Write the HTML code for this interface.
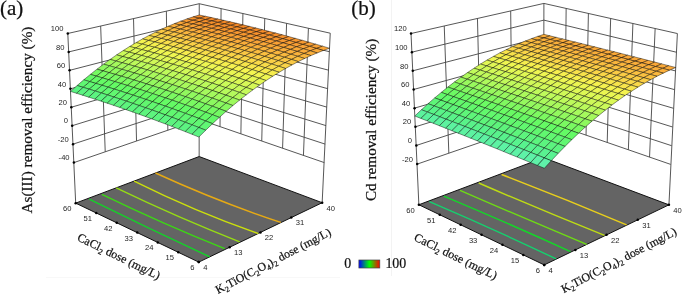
<!DOCTYPE html>
<html><head><meta charset="utf-8"><style>html,body{margin:0;padding:0;background:#fff;width:685px;height:294px;overflow:hidden}svg{display:block;will-change:transform;filter:blur(0.3px)}</style></head>
<body>
<svg width="685" height="294" viewBox="0 0 685 294">
<rect width="685" height="294" fill="#fff"/><line x1="391.5" y1="0" x2="391.5" y2="276" stroke="#f3f3f3" stroke-width="1"/><line x1="46" y1="277.5" x2="340" y2="277.5" stroke="#f8f8f8" stroke-width="1"/>
<g stroke="#444" stroke-width="0.9" fill="none">
<line x1="73.9" y1="162.6" x2="199.17" y2="119.43"/>
<line x1="73.03" y1="144.15" x2="199.18" y2="102.89"/>
<line x1="72.16" y1="125.71" x2="199.19" y2="86.36"/>
<line x1="71.29" y1="107.26" x2="199.21" y2="69.83"/>
<line x1="70.42" y1="88.82" x2="199.22" y2="53.3"/>
<line x1="69.55" y1="70.37" x2="199.23" y2="36.77"/>
<line x1="68.68" y1="51.93" x2="199.24" y2="20.24"/>
<line x1="67.81" y1="33.48" x2="199.25" y2="3.71"/>
<line x1="105.22" y1="151.81" x2="100.67" y2="26.04"/>
<line x1="136.54" y1="141.01" x2="133.53" y2="18.59"/>
<line x1="167.85" y1="130.22" x2="166.39" y2="11.15"/>
<line x1="199.17" y1="119.43" x2="324.3" y2="162.6"/>
<line x1="199.18" y1="102.89" x2="325.15" y2="144.11"/>
<line x1="199.19" y1="86.36" x2="326" y2="125.63"/>
<line x1="199.21" y1="69.83" x2="326.85" y2="107.14"/>
<line x1="199.22" y1="53.3" x2="327.7" y2="88.66"/>
<line x1="199.23" y1="36.77" x2="328.54" y2="70.17"/>
<line x1="199.24" y1="20.24" x2="329.39" y2="51.68"/>
<line x1="199.25" y1="3.71" x2="330.24" y2="33.2"/>
<line x1="220.03" y1="126.62" x2="221.08" y2="8.62"/>
<line x1="240.88" y1="133.82" x2="242.91" y2="13.54"/>
<line x1="261.74" y1="141.01" x2="264.75" y2="18.45"/>
<line x1="282.59" y1="148.21" x2="286.58" y2="23.37"/>
<line x1="303.45" y1="155.4" x2="308.41" y2="28.28"/>
<line x1="75.7" y1="203.13" x2="67.81" y2="33.48"/>
<line x1="199.15" y1="156.54" x2="199.25" y2="3.71"/>
<line x1="322.16" y1="202.71" x2="330.24" y2="33.2"/>
</g>
<polygon points="75.7,203.13 198.78,262.11 322.16,202.71 199.15,156.54" fill="#646464" stroke="#111" stroke-width="1" stroke-linejoin="round"/>
<path d="M89.2,199.2 Q149.45,229 209.7,256.8" fill="none" stroke="#14d228" stroke-width="1.4"/>
<path d="M101.9,194.3 Q163.3,224.05 224.7,248.6" fill="none" stroke="#3cd714" stroke-width="1.4"/>
<path d="M116.2,187.9 Q177.95,217.65 239.7,241.8" fill="none" stroke="#96dc14" stroke-width="1.4"/>
<path d="M134.1,181.2 Q196.25,212.2 258.4,233.6" fill="none" stroke="#cbe00c" stroke-width="1.4"/>
<path d="M155.5,173 Q218.15,201.7 280.8,222.4" fill="none" stroke="#e6aa14" stroke-width="1.4"/>
<g stroke="#000" stroke-opacity="0.72" stroke-width="0.6" stroke-linejoin="round">
<polygon points="199.22,18.19 193.06,16.86 199.24,14.97 205.41,16.28" fill="#f68d2a"/>
<polygon points="205.42,19.55 199.22,18.19 205.41,16.28 211.61,17.62" fill="#f68c29"/>
<polygon points="193.01,20.28 186.84,18.94 193.06,16.86 199.22,18.19" fill="#f7932d"/>
<polygon points="211.66,20.94 205.42,19.55 211.61,17.62 217.84,19" fill="#f68a28"/>
<polygon points="199.2,21.66 193.01,20.28 199.22,18.19 205.42,19.55" fill="#f7922c"/>
<polygon points="186.76,22.56 180.6,21.2 186.84,18.94 193.01,20.28" fill="#f89b32"/>
<polygon points="217.93,22.37 211.66,20.94 217.84,19 224.11,20.42" fill="#f58927"/>
<polygon points="205.44,23.07 199.2,21.66 205.42,19.55 211.66,20.94" fill="#f7902b"/>
<polygon points="192.95,23.96 186.76,22.56 193.01,20.28 199.2,21.66" fill="#f89a31"/>
<polygon points="180.48,25.04 174.32,23.66 180.6,21.2 186.76,22.56" fill="#faa537"/>
<polygon points="224.23,23.83 217.93,22.37 224.11,20.42 230.42,21.86" fill="#f58927"/>
<polygon points="211.71,24.51 205.44,23.07 211.66,20.94 217.93,22.37" fill="#f68f2b"/>
<polygon points="199.19,25.39 192.95,23.96 199.2,21.66 205.44,23.07" fill="#f89830"/>
<polygon points="186.67,26.45 180.48,25.04 186.76,22.56 192.95,23.96" fill="#faa436"/>
<polygon points="174.17,27.71 168.02,26.32 174.32,23.66 180.48,25.04" fill="#faaf3b"/>
<polygon points="230.57,25.33 224.23,23.83 230.42,21.86 236.76,23.35" fill="#f58927"/>
<polygon points="218.01,25.99 211.71,24.51 217.93,22.37 224.23,23.83" fill="#f68f2a"/>
<polygon points="205.45,26.85 199.19,25.39 205.44,23.07 211.71,24.51" fill="#f8972f"/>
<polygon points="192.9,27.9 186.67,26.45 192.95,23.96 199.19,25.39" fill="#faa235"/>
<polygon points="180.36,29.15 174.17,27.71 180.48,25.04 186.67,26.45" fill="#faae3a"/>
<polygon points="167.84,30.59 161.69,29.17 168.02,26.32 174.17,27.71" fill="#fabb3f"/>
<polygon points="236.95,26.87 230.57,25.33 236.76,23.35 243.14,24.87" fill="#f58927"/>
<polygon points="224.35,27.51 218.01,25.99 224.23,23.83 230.57,25.33" fill="#f68e2a"/>
<polygon points="211.76,28.35 205.45,26.85 211.71,24.51 218.01,25.99" fill="#f8962f"/>
<polygon points="199.17,29.38 192.9,27.9 199.19,25.39 205.45,26.85" fill="#f9a135"/>
<polygon points="186.59,30.61 180.36,29.15 186.67,26.45 192.9,27.9" fill="#faad3a"/>
<polygon points="174.02,32.04 167.84,30.59 174.17,27.71 180.36,29.15" fill="#fab93f"/>
<polygon points="161.47,33.66 155.33,32.22 161.69,29.17 167.84,30.59" fill="#fac844"/>
<polygon points="243.36,28.44 236.95,26.87 243.14,24.87 249.55,26.42" fill="#f58927"/>
<polygon points="230.73,29.07 224.35,27.51 230.57,25.33 236.95,26.87" fill="#f68e2a"/>
<polygon points="218.1,29.89 211.76,28.35 218.01,25.99 224.35,27.51" fill="#f8962f"/>
<polygon points="205.47,30.9 199.17,29.38 205.45,26.85 211.76,28.35" fill="#f9a034"/>
<polygon points="192.85,32.12 186.59,30.61 192.9,27.9 199.17,29.38" fill="#faac39"/>
<polygon points="180.24,33.53 174.02,32.04 180.36,29.15 186.59,30.61" fill="#fab83e"/>
<polygon points="167.65,35.14 161.47,33.66 167.84,30.59 174.02,32.04" fill="#fac643"/>
<polygon points="155.08,36.94 148.94,35.47 155.33,32.22 161.47,33.66" fill="#f9d548"/>
<polygon points="249.82,30.05 243.36,28.44 249.55,26.42 256,28.02" fill="#f58a27"/>
<polygon points="237.14,30.66 230.73,29.07 236.95,26.87 243.36,28.44" fill="#f68e2a"/>
<polygon points="224.47,31.46 218.1,29.89 224.35,27.51 230.73,29.07" fill="#f7962e"/>
<polygon points="211.81,32.46 205.47,30.9 211.76,28.35 218.1,29.89" fill="#f9a034"/>
<polygon points="199.15,33.66 192.85,32.12 199.17,29.38 205.47,30.9" fill="#faab39"/>
<polygon points="186.5,35.06 180.24,33.53 186.59,30.61 192.85,32.12" fill="#fab73e"/>
<polygon points="173.87,36.65 167.65,35.14 174.02,32.04 180.24,33.53" fill="#fac543"/>
<polygon points="161.25,38.44 155.08,36.94 161.47,33.66 167.65,35.14" fill="#f9d348"/>
<polygon points="148.66,40.43 142.53,38.94 148.94,35.47 155.08,36.94" fill="#f7e24b"/>
<polygon points="256.3,31.7 249.82,30.05 256,28.02 262.49,29.65" fill="#f68b28"/>
<polygon points="243.59,32.29 237.14,30.66 243.36,28.44 249.82,30.05" fill="#f68f2b"/>
<polygon points="230.89,33.07 224.47,31.46 230.73,29.07 237.14,30.66" fill="#f8962f"/>
<polygon points="218.18,34.05 211.81,32.46 218.1,29.89 224.47,31.46" fill="#f9a034"/>
<polygon points="205.48,35.24 199.15,33.66 205.47,30.9 211.81,32.46" fill="#faaa39"/>
<polygon points="192.8,36.62 186.5,35.06 192.85,32.12 199.15,33.66" fill="#fab63d"/>
<polygon points="180.12,38.2 173.87,36.65 180.24,33.53 186.5,35.06" fill="#fac443"/>
<polygon points="167.47,39.98 161.25,38.44 167.65,35.14 173.87,36.65" fill="#f9d247"/>
<polygon points="154.83,41.95 148.66,40.43 155.08,36.94 161.25,38.44" fill="#f7e14b"/>
<polygon points="142.22,44.12 136.09,42.61 142.53,38.94 148.66,40.43" fill="#f5f24f"/>
<polygon points="262.83,33.39 256.3,31.7 262.49,29.65 269.01,31.32" fill="#f68c29"/>
<polygon points="250.08,33.96 243.59,32.29 249.82,30.05 256.3,31.7" fill="#f6902b"/>
<polygon points="237.34,34.72 230.89,33.07 237.14,30.66 243.59,32.29" fill="#f8972f"/>
<polygon points="224.59,35.69 218.18,34.05 224.47,31.46 230.89,33.07" fill="#f9a034"/>
<polygon points="211.86,36.85 205.48,35.24 211.81,32.46 218.18,34.05" fill="#faaa39"/>
<polygon points="199.13,38.22 192.8,36.62 199.15,33.66 205.48,35.24" fill="#fab63d"/>
<polygon points="186.41,39.78 180.12,38.2 186.5,35.06 192.8,36.62" fill="#fac342"/>
<polygon points="173.72,41.55 167.47,39.98 173.87,36.65 180.12,38.2" fill="#f9d147"/>
<polygon points="161.04,43.51 154.83,41.95 161.25,38.44 167.47,39.98" fill="#f8e04b"/>
<polygon points="148.38,45.68 142.22,44.12 148.66,40.43 154.83,41.95" fill="#f6f04f"/>
<polygon points="135.75,48.04 129.63,46.49 136.09,42.61 142.22,44.12" fill="#eaf652"/>
<polygon points="269.4,35.12 262.83,33.39 269.01,31.32 275.57,33.03" fill="#f68d2a"/>
<polygon points="256.61,35.66 250.08,33.96 256.3,31.7 262.83,33.39" fill="#f7912c"/>
<polygon points="243.83,36.41 237.34,34.72 243.59,32.29 250.08,33.96" fill="#f8972f"/>
<polygon points="231.04,37.36 224.59,35.69 230.89,33.07 237.34,34.72" fill="#f9a034"/>
<polygon points="218.27,38.5 211.86,36.85 218.18,34.05 224.59,35.69" fill="#faaa39"/>
<polygon points="205.5,39.86 199.13,38.22 205.48,35.24 211.86,36.85" fill="#fab53d"/>
<polygon points="192.74,41.41 186.41,39.78 192.8,36.62 199.13,38.22" fill="#fac242"/>
<polygon points="180,43.16 173.72,41.55 180.12,38.2 186.41,39.78" fill="#fad147"/>
<polygon points="167.28,45.11 161.04,43.51 167.47,39.98 173.72,41.55" fill="#f8df4a"/>
<polygon points="154.58,47.27 148.38,45.68 154.83,41.95 161.04,43.51" fill="#f6ef4e"/>
<polygon points="141.9,49.62 135.75,48.04 142.22,44.12 148.38,45.68" fill="#ebf652"/>
<polygon points="129.25,52.16 123.14,50.59 129.63,46.49 135.75,48.04" fill="#dbf856"/>
<polygon points="276,36.89 269.4,35.12 275.57,33.03 282.18,34.78" fill="#f68f2b"/>
<polygon points="263.18,37.41 256.61,35.66 262.83,33.39 269.4,35.12" fill="#f7932d"/>
<polygon points="250.36,38.14 243.83,36.41 250.08,33.96 256.61,35.66" fill="#f89930"/>
<polygon points="237.53,39.07 231.04,37.36 237.34,34.72 243.83,36.41" fill="#f9a135"/>
<polygon points="224.72,40.2 218.27,38.5 224.59,35.69 231.04,37.36" fill="#faab39"/>
<polygon points="211.91,41.53 205.5,39.86 211.86,36.85 218.27,38.5" fill="#fab53d"/>
<polygon points="199.11,43.07 192.74,41.41 199.13,38.22 205.5,39.86" fill="#fac242"/>
<polygon points="186.33,44.81 180,43.16 186.41,39.78 192.74,41.41" fill="#fad047"/>
<polygon points="173.56,46.75 167.28,45.11 173.72,41.55 180,43.16" fill="#f8de4a"/>
<polygon points="160.82,48.89 154.58,47.27 161.04,43.51 167.28,45.11" fill="#f6ee4e"/>
<polygon points="148.09,51.23 141.9,49.62 148.38,45.68 154.58,47.27" fill="#ecf652"/>
<polygon points="135.4,53.77 129.25,52.16 135.75,48.04 141.9,49.62" fill="#dcf855"/>
<polygon points="122.73,56.51 116.63,54.9 123.14,50.59 129.25,52.16" fill="#cbfa59"/>
<polygon points="282.65,38.7 276,36.89 282.18,34.78 288.82,36.57" fill="#f7922c"/>
<polygon points="269.79,39.2 263.18,37.41 269.4,35.12 276,36.89" fill="#f7952e"/>
<polygon points="256.92,39.91 250.36,38.14 256.61,35.66 263.18,37.41" fill="#f89a31"/>
<polygon points="244.06,40.82 237.53,39.07 243.83,36.41 250.36,38.14" fill="#faa235"/>
<polygon points="231.21,41.93 224.72,40.2 231.04,37.36 237.53,39.07" fill="#faab39"/>
<polygon points="218.36,43.25 211.91,41.53 218.27,38.5 224.72,40.2" fill="#fab63d"/>
<polygon points="205.52,44.77 199.11,43.07 205.5,39.86 211.91,41.53" fill="#fac242"/>
<polygon points="192.69,46.5 186.33,44.81 192.74,41.41 199.11,43.07" fill="#fad047"/>
<polygon points="179.88,48.43 173.56,46.75 180,43.16 186.33,44.81" fill="#f8de4a"/>
<polygon points="167.09,50.56 160.82,48.89 167.28,45.11 173.56,46.75" fill="#f6ed4e"/>
<polygon points="154.32,52.89 148.09,51.23 154.58,47.27 160.82,48.89" fill="#edf652"/>
<polygon points="141.58,55.42 135.4,53.77 141.9,49.62 148.09,51.23" fill="#def855"/>
<polygon points="128.87,58.15 122.73,56.51 129.25,52.16 135.4,53.77" fill="#ccfa59"/>
<polygon points="116.19,61.07 110.1,59.44 116.63,54.9 122.73,56.51" fill="#b7f95b"/>
<polygon points="289.33,40.55 282.65,38.7 288.82,36.57 295.5,38.41" fill="#f7942e"/>
<polygon points="276.43,41.03 269.79,39.2 276,36.89 282.65,38.7" fill="#f8972f"/>
<polygon points="263.53,41.72 256.92,39.91 263.18,37.41 269.79,39.2" fill="#f89c32"/>
<polygon points="250.63,42.61 244.06,40.82 250.36,38.14 256.92,39.91" fill="#faa436"/>
<polygon points="237.73,43.7 231.21,41.93 237.53,39.07 244.06,40.82" fill="#faac3a"/>
<polygon points="224.84,45 218.36,43.25 224.72,40.2 231.21,41.93" fill="#fab63d"/>
<polygon points="211.96,46.51 205.52,44.77 211.91,41.53 218.36,43.25" fill="#fac242"/>
<polygon points="199.09,48.22 192.69,46.5 199.11,43.07 205.52,44.77" fill="#fad047"/>
<polygon points="186.24,50.14 179.88,48.43 186.33,44.81 192.69,46.5" fill="#f8dd4a"/>
<polygon points="173.4,52.26 167.09,50.56 173.56,46.75 179.88,48.43" fill="#f6ec4e"/>
<polygon points="160.59,54.58 154.32,52.89 160.82,48.89 167.09,50.56" fill="#eef652"/>
<polygon points="147.81,57.1 141.58,55.42 148.09,51.23 154.32,52.89" fill="#def855"/>
<polygon points="135.05,59.83 128.87,58.15 135.4,53.77 141.58,55.42" fill="#cdf959"/>
<polygon points="122.32,62.75 116.19,61.07 122.73,56.51 128.87,58.15" fill="#b9fa5b"/>
<polygon points="109.63,65.87 103.55,64.2 110.1,59.44 116.19,61.07" fill="#a2f95d"/>
<polygon points="296.06,42.45 289.33,40.55 295.5,38.41 302.22,40.28" fill="#f8972f"/>
<polygon points="283.12,42.9 276.43,41.03 282.65,38.7 289.33,40.55" fill="#f89930"/>
<polygon points="270.18,43.57 263.53,41.72 269.79,39.2 276.43,41.03" fill="#f99e33"/>
<polygon points="257.24,44.44 250.63,42.61 256.92,39.91 263.53,41.72" fill="#faa537"/>
<polygon points="244.3,45.51 237.73,43.7 244.06,40.82 250.63,42.61" fill="#faad3a"/>
<polygon points="231.37,46.8 224.84,45 231.21,41.93 237.73,43.7" fill="#fab73e"/>
<polygon points="218.44,48.29 211.96,46.51 218.36,43.25 224.84,45" fill="#fac342"/>
<polygon points="205.53,49.99 199.09,48.22 205.52,44.77 211.96,46.51" fill="#fad047"/>
<polygon points="192.64,51.89 186.24,50.14 192.69,46.5 199.09,48.22" fill="#f8dd4a"/>
<polygon points="179.76,54 173.4,52.26 179.88,48.43 186.24,50.14" fill="#f6ec4e"/>
<polygon points="166.9,56.31 160.59,54.58 167.09,50.56 173.4,52.26" fill="#eff651"/>
<polygon points="154.07,58.83 147.81,57.1 154.32,52.89 160.59,54.58" fill="#dff755"/>
<polygon points="141.26,61.54 135.05,59.83 141.58,55.42 147.81,57.1" fill="#cef959"/>
<polygon points="128.49,64.46 122.32,62.75 128.87,58.15 135.05,59.83" fill="#bafa5b"/>
<polygon points="115.75,67.57 109.63,65.87 116.19,61.07 122.32,62.75" fill="#a4f95d"/>
<polygon points="103.05,70.89 96.98,69.18 103.55,64.2 109.63,65.87" fill="#8bf85f"/>
<polygon points="302.82,44.38 296.06,42.45 302.22,40.28 308.99,42.2" fill="#f89a31"/>
<polygon points="289.85,44.82 283.12,42.9 289.33,40.55 296.06,42.45" fill="#f99c32"/>
<polygon points="276.87,45.46 270.18,43.57 276.43,41.03 283.12,42.9" fill="#f9a134"/>
<polygon points="263.89,46.31 257.24,44.44 263.53,41.72 270.18,43.57" fill="#faa738"/>
<polygon points="250.91,47.37 244.3,45.51 250.63,42.61 257.24,44.44" fill="#faae3b"/>
<polygon points="237.94,48.64 231.37,46.8 237.73,43.7 244.3,45.51" fill="#fab83e"/>
<polygon points="224.97,50.11 218.44,48.29 224.84,45 231.37,46.8" fill="#fac342"/>
<polygon points="212.01,51.8 205.53,49.99 211.96,46.51 218.44,48.29" fill="#fad047"/>
<polygon points="199.07,53.69 192.64,51.89 199.09,48.22 205.53,49.99" fill="#f8dd4a"/>
<polygon points="186.15,55.78 179.76,54 186.24,50.14 192.64,51.89" fill="#f6ec4e"/>
<polygon points="173.25,58.08 166.9,56.31 173.4,52.26 179.76,54" fill="#eff651"/>
<polygon points="160.37,60.59 154.07,58.83 160.59,54.58 166.9,56.31" fill="#e0f755"/>
<polygon points="147.52,63.3 141.26,61.54 147.81,57.1 154.07,58.83" fill="#cff958"/>
<polygon points="134.69,66.21 128.49,64.46 135.05,59.83 141.26,61.54" fill="#bcfa5b"/>
<polygon points="121.91,69.32 115.75,67.57 122.32,62.75 128.49,64.46" fill="#a5f95d"/>
<polygon points="109.16,72.63 103.05,70.89 109.63,65.87 115.75,67.57" fill="#8df85f"/>
<polygon points="96.45,76.13 90.39,74.39 96.98,69.18 103.05,70.89" fill="#75f962"/>
<polygon points="309.63,46.37 302.82,44.38 308.99,42.2 315.79,44.16" fill="#f99e33"/>
<polygon points="296.62,46.78 289.85,44.82 296.06,42.45 302.82,44.38" fill="#f99f34"/>
<polygon points="283.6,47.4 276.87,45.46 283.12,42.9 289.85,44.82" fill="#faa336"/>
<polygon points="270.58,48.23 263.89,46.31 270.18,43.57 276.87,45.46" fill="#faa938"/>
<polygon points="257.56,49.27 250.91,47.37 257.24,44.44 263.89,46.31" fill="#fab03b"/>
<polygon points="244.54,50.52 237.94,48.64 244.3,45.51 250.91,47.37" fill="#fab93f"/>
<polygon points="231.53,51.98 224.97,50.11 231.37,46.8 237.94,48.64" fill="#fac443"/>
<polygon points="218.53,53.64 212.01,51.8 218.44,48.29 224.97,50.11" fill="#fad147"/>
<polygon points="205.55,55.52 199.07,53.69 205.53,49.99 212.01,51.8" fill="#f8de4a"/>
<polygon points="192.58,57.6 186.15,55.78 192.64,51.89 199.07,53.69" fill="#f6ec4e"/>
<polygon points="179.63,59.9 173.25,58.08 179.76,54 186.15,55.78" fill="#eff651"/>
<polygon points="166.71,62.39 160.37,60.59 166.9,56.31 173.25,58.08" fill="#e0f755"/>
<polygon points="153.81,65.09 147.52,63.3 154.07,58.83 160.37,60.59" fill="#d0f958"/>
<polygon points="140.94,68 134.69,66.21 141.26,61.54 147.52,63.3" fill="#bcfa5b"/>
<polygon points="128.1,71.1 121.91,69.32 128.49,64.46 134.69,66.21" fill="#a6f95d"/>
<polygon points="115.3,74.41 109.16,72.63 115.75,67.57 121.91,69.32" fill="#8ff85e"/>
<polygon points="102.54,77.91 96.45,76.13 103.05,70.89 109.16,72.63" fill="#77f961"/>
<polygon points="89.82,81.62 83.78,79.84 90.39,74.39 96.45,76.13" fill="#63f967"/>
<polygon points="316.49,48.39 309.63,46.37 315.79,44.16 322.64,46.16" fill="#f9a235"/>
<polygon points="303.43,48.78 296.62,46.78 302.82,44.38 309.63,46.37" fill="#faa336"/>
<polygon points="290.38,49.38 283.6,47.4 289.85,44.82 296.62,46.78" fill="#faa637"/>
<polygon points="277.31,50.19 270.58,48.23 276.87,45.46 283.6,47.4" fill="#faab39"/>
<polygon points="264.25,51.21 257.56,49.27 263.89,46.31 270.58,48.23" fill="#fab23c"/>
<polygon points="251.19,52.44 244.54,50.52 250.91,47.37 257.56,49.27" fill="#fabb3f"/>
<polygon points="238.14,53.88 231.53,51.98 237.94,48.64 244.54,50.52" fill="#fac643"/>
<polygon points="225.1,55.53 218.53,53.64 224.97,50.11 231.53,51.98" fill="#f9d247"/>
<polygon points="212.07,57.4 205.55,55.52 212.01,51.8 218.53,53.64" fill="#f8de4a"/>
<polygon points="199.05,59.47 192.58,57.6 199.07,53.69 205.55,55.52" fill="#f6ec4e"/>
<polygon points="186.06,61.75 179.63,59.9 186.15,55.78 192.58,57.6" fill="#eff651"/>
<polygon points="173.09,64.24 166.71,62.39 173.25,58.08 179.63,59.9" fill="#e0f755"/>
<polygon points="160.14,66.93 153.81,65.09 160.37,60.59 166.71,62.39" fill="#d0f958"/>
<polygon points="147.22,69.83 140.94,68 147.52,63.3 153.81,65.09" fill="#bdfa5b"/>
<polygon points="134.34,72.93 128.1,71.1 134.69,66.21 140.94,68" fill="#a7f95d"/>
<polygon points="121.49,76.23 115.3,74.41 121.91,69.32 128.1,71.1" fill="#90f85e"/>
<polygon points="108.68,79.73 102.54,77.91 109.16,72.63 115.3,74.41" fill="#78f961"/>
<polygon points="95.91,83.43 89.82,81.62 96.45,76.13 102.54,77.91" fill="#63f966"/>
<polygon points="83.18,87.33 77.15,85.51 83.78,79.84 89.82,81.62" fill="#60f673"/>
<polygon points="323.38,50.46 316.49,48.39 322.64,46.16 329.53,48.21" fill="#faa637"/>
<polygon points="310.29,50.83 303.43,48.78 309.63,46.37 316.49,48.39" fill="#faa638"/>
<polygon points="297.19,51.4 290.38,49.38 296.62,46.78 303.43,48.78" fill="#faa938"/>
<polygon points="284.09,52.19 277.31,50.19 283.6,47.4 290.38,49.38" fill="#faad3a"/>
<polygon points="270.99,53.19 264.25,51.21 270.58,48.23 277.31,50.19" fill="#fab43d"/>
<polygon points="257.88,54.41 251.19,52.44 257.56,49.27 264.25,51.21" fill="#fabd40"/>
<polygon points="244.79,55.83 238.14,53.88 244.54,50.52 251.19,52.44" fill="#fac744"/>
<polygon points="231.7,57.47 225.1,55.53 231.53,51.98 238.14,53.88" fill="#f9d347"/>
<polygon points="218.63,59.32 212.07,57.4 218.53,53.64 225.1,55.53" fill="#f8df4a"/>
<polygon points="205.57,61.37 199.05,59.47 205.55,55.52 212.07,57.4" fill="#f6ed4e"/>
<polygon points="192.52,63.64 186.06,61.75 192.58,57.6 199.05,59.47" fill="#eff651"/>
<polygon points="179.5,66.12 173.09,64.24 179.63,59.9 186.06,61.75" fill="#e0f755"/>
<polygon points="166.51,68.8 160.14,66.93 166.71,62.39 173.09,64.24" fill="#d0f958"/>
<polygon points="153.54,71.69 147.22,69.83 153.81,65.09 160.14,66.93" fill="#befa5b"/>
<polygon points="140.61,74.79 134.34,72.93 140.94,68 147.22,69.83" fill="#a8f95c"/>
<polygon points="127.71,78.09 121.49,76.23 128.1,71.1 134.34,72.93" fill="#91f85e"/>
<polygon points="114.85,81.59 108.68,79.73 115.3,74.41 121.49,76.23" fill="#79f961"/>
<polygon points="102.03,85.29 95.91,83.43 102.54,77.91 108.68,79.73" fill="#64fa65"/>
<polygon points="89.25,89.19 83.18,87.33 89.82,81.62 95.91,83.43" fill="#60f672"/>
<polygon points="76.53,93.29 70.51,91.42 77.15,85.51 83.18,87.33" fill="#5bf382"/>
<polygon points="317.19,52.92 310.29,50.83 316.49,48.39 323.38,50.46" fill="#faaa39"/>
<polygon points="304.05,53.47 297.19,51.4 303.43,48.78 310.29,50.83" fill="#faac3a"/>
<polygon points="290.91,54.24 284.09,52.19 290.38,49.38 297.19,51.4" fill="#fab03b"/>
<polygon points="277.76,55.22 270.99,53.19 277.31,50.19 284.09,52.19" fill="#fab63e"/>
<polygon points="264.62,56.42 257.88,54.41 264.25,51.21 270.99,53.19" fill="#fabf41"/>
<polygon points="251.48,57.82 244.79,55.83 251.19,52.44 257.88,54.41" fill="#fac944"/>
<polygon points="238.35,59.44 231.7,57.47 238.14,53.88 244.79,55.83" fill="#f9d448"/>
<polygon points="225.23,61.28 218.63,59.32 225.1,55.53 231.7,57.47" fill="#f8e04b"/>
<polygon points="212.12,63.32 205.57,61.37 212.07,57.4 218.63,59.32" fill="#f6ed4e"/>
<polygon points="199.03,65.58 192.52,63.64 199.05,59.47 205.57,61.37" fill="#eff651"/>
<polygon points="185.97,68.05 179.5,66.12 186.06,61.75 192.52,63.64" fill="#e0f755"/>
<polygon points="172.92,70.72 166.51,68.8 173.09,64.24 179.5,66.12" fill="#d1f958"/>
<polygon points="159.91,73.61 153.54,71.69 160.14,66.93 166.51,68.8" fill="#befa5b"/>
<polygon points="146.92,76.7 140.61,74.79 147.22,69.83 153.54,71.69" fill="#a9f95c"/>
<polygon points="133.97,79.99 127.71,78.09 134.34,72.93 140.61,74.79" fill="#92f85e"/>
<polygon points="121.06,83.49 114.85,81.59 121.49,76.23 127.71,78.09" fill="#7af961"/>
<polygon points="108.19,87.19 102.03,85.29 108.68,79.73 114.85,81.59" fill="#64fa65"/>
<polygon points="95.36,91.09 89.25,89.19 95.91,83.43 102.03,85.29" fill="#60f672"/>
<polygon points="82.58,95.19 76.53,93.29 83.18,87.33 89.25,89.19" fill="#5bf381"/>
<polygon points="310.96,55.59 304.05,53.47 310.29,50.83 317.19,52.92" fill="#faaf3b"/>
<polygon points="297.77,56.33 290.91,54.24 297.19,51.4 304.05,53.47" fill="#fab33c"/>
<polygon points="284.58,57.29 277.76,55.22 284.09,52.19 290.91,54.24" fill="#fab93f"/>
<polygon points="271.4,58.47 264.62,56.42 270.99,53.19 277.76,55.22" fill="#fac141"/>
<polygon points="258.21,59.86 251.48,57.82 257.88,54.41 264.62,56.42" fill="#facb45"/>
<polygon points="245.04,61.47 238.35,59.44 244.79,55.83 251.48,57.82" fill="#f9d548"/>
<polygon points="231.87,63.28 225.23,61.28 231.7,57.47 238.35,59.44" fill="#f8e14b"/>
<polygon points="218.72,65.32 212.12,63.32 218.63,59.32 225.23,61.28" fill="#f6ee4e"/>
<polygon points="205.58,67.56 199.03,65.58 205.57,61.37 212.12,63.32" fill="#eef652"/>
<polygon points="192.47,70.02 185.97,68.05 192.52,63.64 199.03,65.58" fill="#e0f755"/>
<polygon points="179.38,72.68 172.92,70.72 179.5,66.12 185.97,68.05" fill="#d0f958"/>
<polygon points="166.31,75.56 159.91,73.61 166.51,68.8 172.92,70.72" fill="#befa5b"/>
<polygon points="153.28,78.64 146.92,76.7 153.54,71.69 159.91,73.61" fill="#a9f95c"/>
<polygon points="140.28,81.93 133.97,79.99 140.61,74.79 146.92,76.7" fill="#92f85e"/>
<polygon points="127.31,85.43 121.06,83.49 127.71,78.09 133.97,79.99" fill="#7bf961"/>
<polygon points="114.39,89.13 108.19,87.19 114.85,81.59 121.06,83.49" fill="#64fa64"/>
<polygon points="101.51,93.03 95.36,91.09 102.03,85.29 108.19,87.19" fill="#60f671"/>
<polygon points="88.68,97.13 82.58,95.19 89.25,89.19 95.36,91.09" fill="#5cf480"/>
<polygon points="304.68,58.47 297.77,56.33 304.05,53.47 310.96,55.59" fill="#fab63d"/>
<polygon points="291.45,59.41 284.58,57.29 290.91,54.24 297.77,56.33" fill="#fabc40"/>
<polygon points="278.22,60.57 271.4,58.47 277.76,55.22 284.58,57.29" fill="#fac442"/>
<polygon points="264.99,61.94 258.21,59.86 264.62,56.42 271.4,58.47" fill="#facd46"/>
<polygon points="251.77,63.53 245.04,61.47 251.48,57.82 258.21,59.86" fill="#f9d748"/>
<polygon points="238.56,65.33 231.87,63.28 238.35,59.44 245.04,61.47" fill="#f7e24b"/>
<polygon points="225.36,67.35 218.72,65.32 225.23,61.28 231.87,63.28" fill="#f6ef4f"/>
<polygon points="212.18,69.58 205.58,67.56 212.12,63.32 218.72,65.32" fill="#edf652"/>
<polygon points="199.01,72.03 192.47,70.02 199.03,65.58 205.58,67.56" fill="#dff755"/>
<polygon points="185.87,74.69 179.38,72.68 185.97,68.05 192.47,70.02" fill="#d0f958"/>
<polygon points="172.76,77.55 166.31,75.56 172.92,70.72 179.38,72.68" fill="#befa5b"/>
<polygon points="159.67,80.63 153.28,78.64 159.91,73.61 166.31,75.56" fill="#a9f95c"/>
<polygon points="146.62,83.92 140.28,81.93 146.92,76.7 153.28,78.64" fill="#93f85e"/>
<polygon points="133.61,87.41 127.31,85.43 133.97,79.99 140.28,81.93" fill="#7cf961"/>
<polygon points="120.63,91.11 114.39,89.13 121.06,83.49 127.31,85.43" fill="#65fa64"/>
<polygon points="107.7,95.01 101.51,93.03 108.19,87.19 114.39,89.13" fill="#61f770"/>
<polygon points="94.81,99.11 88.68,97.13 95.36,91.09 101.51,93.03" fill="#5cf480"/>
<polygon points="298.36,61.58 291.45,59.41 297.77,56.33 304.68,58.47" fill="#fabf41"/>
<polygon points="285.08,62.72 278.22,60.57 284.58,57.29 291.45,59.41" fill="#fac644"/>
<polygon points="271.81,64.07 264.99,61.94 271.4,58.47 278.22,60.57" fill="#facf47"/>
<polygon points="258.55,65.64 251.77,63.53 258.21,59.86 264.99,61.94" fill="#f9d949"/>
<polygon points="245.29,67.43 238.56,65.33 245.04,61.47 251.77,63.53" fill="#f7e44c"/>
<polygon points="232.04,69.43 225.36,67.35 231.87,63.28 238.56,65.33" fill="#f6f14f"/>
<polygon points="218.81,71.65 212.18,69.58 218.72,65.32 225.36,67.35" fill="#ecf652"/>
<polygon points="205.6,74.09 199.01,72.03 205.58,67.56 212.18,69.58" fill="#dff755"/>
<polygon points="192.41,76.73 185.87,74.69 192.47,70.02 199.01,72.03" fill="#d0f958"/>
<polygon points="179.25,79.59 172.76,77.55 179.38,72.68 185.87,74.69" fill="#befa5b"/>
<polygon points="166.11,82.66 159.67,80.63 166.31,75.56 172.76,77.55" fill="#a9f95c"/>
<polygon points="153.01,85.95 146.62,83.92 153.28,78.64 159.67,80.63" fill="#93f85e"/>
<polygon points="139.94,89.43 133.61,87.41 140.28,81.93 146.62,83.92" fill="#7cf961"/>
<polygon points="126.91,93.13 120.63,91.11 127.31,85.43 133.61,87.41" fill="#65fa64"/>
<polygon points="113.93,97.03 107.7,95.01 114.39,89.13 120.63,91.11" fill="#61f770"/>
<polygon points="100.99,101.13 94.81,99.11 101.51,93.03 107.7,95.01" fill="#5cf47f"/>
<polygon points="292,64.91 285.08,62.72 291.45,59.41 298.36,61.58" fill="#fac945"/>
<polygon points="278.68,66.25 271.81,64.07 278.22,60.57 285.08,62.72" fill="#f9d247"/>
<polygon points="265.37,67.8 258.55,65.64 264.99,61.94 271.81,64.07" fill="#f8db49"/>
<polygon points="252.06,69.57 245.29,67.43 251.77,63.53 258.55,65.64" fill="#f7e64c"/>
<polygon points="238.77,71.56 232.04,69.43 238.56,65.33 245.29,67.43" fill="#f5f24f"/>
<polygon points="225.49,73.77 218.81,71.65 225.36,67.35 232.04,69.43" fill="#ebf652"/>
<polygon points="212.23,76.19 205.6,74.09 212.18,69.58 218.81,71.65" fill="#def855"/>
<polygon points="198.99,78.83 192.41,76.73 199.01,72.03 205.6,74.09" fill="#cff958"/>
<polygon points="185.78,81.68 179.25,79.59 185.87,74.69 192.41,76.73" fill="#bdfa5b"/>
<polygon points="172.59,84.74 166.11,82.66 172.76,77.55 179.25,79.59" fill="#a9f95c"/>
<polygon points="159.44,88.02 153.01,85.95 159.67,80.63 166.11,82.66" fill="#93f85e"/>
<polygon points="146.32,91.5 139.94,89.43 146.62,83.92 153.01,85.95" fill="#7cf961"/>
<polygon points="133.24,95.2 126.91,93.13 133.61,87.41 139.94,89.43" fill="#66fa64"/>
<polygon points="120.2,99.1 113.93,97.03 120.63,91.11 126.91,93.13" fill="#61f770"/>
<polygon points="107.2,103.2 100.99,101.13 107.7,95.01 113.93,97.03" fill="#5cf47e"/>
<polygon points="285.59,68.47 278.68,66.25 285.08,62.72 292,64.91" fill="#f9d448"/>
<polygon points="272.23,70.01 265.37,67.8 271.81,64.07 278.68,66.25" fill="#f8dd4a"/>
<polygon points="258.88,71.76 252.06,69.57 258.55,65.64 265.37,67.8" fill="#f7e84d"/>
<polygon points="245.54,73.74 238.77,71.56 245.29,67.43 252.06,69.57" fill="#f5f450"/>
<polygon points="232.22,75.93 225.49,73.77 232.04,69.43 238.77,71.56" fill="#eaf652"/>
<polygon points="218.91,78.34 212.23,76.19 218.81,71.65 225.49,73.77" fill="#ddf855"/>
<polygon points="205.62,80.96 198.99,78.83 205.6,74.09 212.23,76.19" fill="#cef959"/>
<polygon points="192.35,83.81 185.78,81.68 192.41,76.73 198.99,78.83" fill="#bdfa5b"/>
<polygon points="179.12,86.86 172.59,84.74 179.25,79.59 185.78,81.68" fill="#a8f95c"/>
<polygon points="165.91,90.13 159.44,88.02 166.11,82.66 172.59,84.74" fill="#93f85e"/>
<polygon points="152.74,93.61 146.32,91.5 153.01,85.95 159.44,88.02" fill="#7cf961"/>
<polygon points="139.6,97.3 133.24,95.2 139.94,89.43 146.32,91.5" fill="#66fa64"/>
<polygon points="126.51,101.2 120.2,99.1 126.91,93.13 133.24,95.2" fill="#61f76f"/>
<polygon points="113.46,105.31 107.2,103.2 113.93,97.03 120.2,99.1" fill="#5df47e"/>
<polygon points="279.15,72.26 272.23,70.01 278.68,66.25 285.59,68.47" fill="#f8e04b"/>
<polygon points="265.75,74 258.88,71.76 265.37,67.8 272.23,70.01" fill="#f6ea4d"/>
<polygon points="252.36,75.96 245.54,73.74 252.06,69.57 258.88,71.76" fill="#f4f550"/>
<polygon points="238.99,78.14 232.22,75.93 238.77,71.56 245.54,73.74" fill="#e9f653"/>
<polygon points="225.63,80.53 218.91,78.34 225.49,73.77 232.22,75.93" fill="#dcf856"/>
<polygon points="212.29,83.15 205.62,80.96 212.23,76.19 218.91,78.34" fill="#cdf959"/>
<polygon points="198.97,85.98 192.35,83.81 198.99,78.83 205.62,80.96" fill="#bcfa5b"/>
<polygon points="185.68,89.03 179.12,86.86 185.78,81.68 192.35,83.81" fill="#a8f95c"/>
<polygon points="172.42,92.29 165.91,90.13 172.59,84.74 179.12,86.86" fill="#92f85e"/>
<polygon points="159.2,95.77 152.74,93.61 159.44,88.02 165.91,90.13" fill="#7cf961"/>
<polygon points="146.01,99.46 139.6,97.3 146.32,91.5 152.74,93.61" fill="#66fa64"/>
<polygon points="132.86,103.36 126.51,101.2 133.24,95.2 139.6,97.3" fill="#61f76f"/>
<polygon points="119.76,107.46 113.46,105.31 120.2,99.1 126.51,101.2" fill="#5df47e"/>
<polygon points="272.66,76.28 265.75,74 272.23,70.01 279.15,72.26" fill="#f6ec4e"/>
<polygon points="259.23,78.23 252.36,75.96 258.88,71.76 265.75,74" fill="#f2f551"/>
<polygon points="245.8,80.39 238.99,78.14 245.54,73.74 252.36,75.96" fill="#e7f753"/>
<polygon points="232.39,82.78 225.63,80.53 232.22,75.93 238.99,78.14" fill="#daf856"/>
<polygon points="219,85.38 212.29,83.15 218.91,78.34 225.63,80.53" fill="#ccfa59"/>
<polygon points="205.64,88.2 198.97,85.98 205.62,80.96 212.29,83.15" fill="#bbfa5b"/>
<polygon points="192.3,91.24 185.68,89.03 192.35,83.81 198.97,85.98" fill="#a7f95d"/>
<polygon points="178.98,94.5 172.42,92.29 179.12,86.86 185.68,89.03" fill="#92f85e"/>
<polygon points="165.7,97.97 159.2,95.77 165.91,90.13 172.42,92.29" fill="#7cf961"/>
<polygon points="152.46,101.66 146.01,99.46 152.74,93.61 159.2,95.77" fill="#66fa64"/>
<polygon points="139.26,105.55 132.86,103.36 139.6,97.3 146.01,99.46" fill="#61f76f"/>
<polygon points="126.1,109.66 119.76,107.46 126.51,101.2 132.86,103.36" fill="#5df47d"/>
<polygon points="266.14,80.55 259.23,78.23 265.75,74 272.66,76.28" fill="#f0f651"/>
<polygon points="252.66,82.7 245.8,80.39 252.36,75.96 259.23,78.23" fill="#e5f754"/>
<polygon points="239.2,85.07 232.39,82.78 238.99,78.14 245.8,80.39" fill="#d9f856"/>
<polygon points="225.76,87.66 219,85.38 225.63,80.53 232.39,82.78" fill="#cbfa59"/>
<polygon points="212.35,90.47 205.64,88.2 212.29,83.15 219,85.38" fill="#b9fa5b"/>
<polygon points="198.95,93.51 192.3,91.24 198.97,85.98 205.64,88.2" fill="#a6f95d"/>
<polygon points="185.59,96.76 178.98,94.5 185.68,89.03 192.3,91.24" fill="#91f85e"/>
<polygon points="172.25,100.22 165.7,97.97 172.42,92.29 178.98,94.5" fill="#7bf961"/>
<polygon points="158.96,103.9 152.46,101.66 159.2,95.77 165.7,97.97" fill="#66fa64"/>
<polygon points="145.7,107.8 139.26,105.55 146.01,99.46 152.46,101.66" fill="#61f76f"/>
<polygon points="132.48,111.9 126.1,109.66 132.86,103.36 139.26,105.55" fill="#5df47d"/>
<polygon points="259.57,85.05 252.66,82.7 259.23,78.23 266.14,80.55" fill="#e3f754"/>
<polygon points="246.06,87.41 239.2,85.07 245.8,80.39 252.66,82.7" fill="#d7f857"/>
<polygon points="232.57,89.99 225.76,87.66 232.39,82.78 239.2,85.07" fill="#c9fa5a"/>
<polygon points="219.1,92.79 212.35,90.47 219,85.38 225.76,87.66" fill="#b8f95b"/>
<polygon points="205.65,95.82 198.95,93.51 205.64,88.2 212.35,90.47" fill="#a5f95d"/>
<polygon points="192.24,99.06 185.59,96.76 192.3,91.24 198.95,93.51" fill="#90f85e"/>
<polygon points="178.85,102.52 172.25,100.22 178.98,94.5 185.59,96.76" fill="#7bf961"/>
<polygon points="165.5,106.2 158.96,103.9 165.7,97.97 172.25,100.22" fill="#65fa64"/>
<polygon points="152.18,110.09 145.7,107.8 152.46,101.66 158.96,103.9" fill="#61f76f"/>
<polygon points="138.91,114.19 132.48,111.9 139.26,105.55 145.7,107.8" fill="#5df47d"/>
<polygon points="252.97,89.8 246.06,87.41 252.66,82.7 259.57,85.05" fill="#d5f957"/>
<polygon points="239.43,92.37 232.57,89.99 239.2,85.07 246.06,87.41" fill="#c7fa5a"/>
<polygon points="225.9,95.16 219.1,92.79 225.76,87.66 232.57,89.99" fill="#b6f95b"/>
<polygon points="212.4,98.17 205.65,95.82 212.35,90.47 219.1,92.79" fill="#a3f95d"/>
<polygon points="198.93,101.41 192.24,99.06 198.95,93.51 205.65,95.82" fill="#8ef85e"/>
<polygon points="185.49,104.86 178.85,102.52 185.59,96.76 192.24,99.06" fill="#7af961"/>
<polygon points="172.08,108.54 165.5,106.2 172.25,100.22 178.85,102.52" fill="#64fa64"/>
<polygon points="158.71,112.43 152.18,110.09 158.96,103.9 165.5,106.2" fill="#61f770"/>
<polygon points="145.38,116.53 138.91,114.19 145.7,107.8 152.18,110.09" fill="#5df47d"/>
<polygon points="246.33,94.8 239.43,92.37 246.06,87.41 252.97,89.8" fill="#c5fa5a"/>
<polygon points="232.75,97.58 225.9,95.16 232.57,89.99 239.43,92.37" fill="#b4f95c"/>
<polygon points="219.2,100.58 212.4,98.17 219.1,92.79 225.9,95.16" fill="#a1f95d"/>
<polygon points="205.67,103.81 198.93,101.41 205.65,95.82 212.4,98.17" fill="#8df85f"/>
<polygon points="192.18,107.26 185.49,104.86 192.24,99.06 198.93,101.41" fill="#79f961"/>
<polygon points="178.71,110.93 172.08,108.54 178.85,102.52 185.49,104.86" fill="#64fa64"/>
<polygon points="165.29,114.81 158.71,112.43 165.5,106.2 172.08,108.54" fill="#61f770"/>
<polygon points="151.9,118.92 145.38,116.53 152.18,110.09 158.71,112.43" fill="#5df47e"/>
<polygon points="239.65,100.05 232.75,97.58 239.43,92.37 246.33,94.8" fill="#b2f95c"/>
<polygon points="226.04,103.04 219.2,100.58 225.9,95.16 232.75,97.58" fill="#9ff95d"/>
<polygon points="212.46,106.26 205.67,103.81 212.4,98.17 219.2,100.58" fill="#8bf85f"/>
<polygon points="198.91,109.7 192.18,107.26 198.93,101.41 205.67,103.81" fill="#77f961"/>
<polygon points="185.39,113.37 178.71,110.93 185.49,104.86 192.18,107.26" fill="#64fa65"/>
<polygon points="171.91,117.25 165.29,114.81 172.08,108.54 178.71,110.93" fill="#61f770"/>
<polygon points="158.46,121.35 151.9,118.92 158.71,112.43 165.29,114.81" fill="#5cf47e"/>
<polygon points="232.94,105.55 226.04,103.04 232.75,97.58 239.65,100.05" fill="#9df95d"/>
<polygon points="219.3,108.76 212.46,106.26 219.2,100.58 226.04,103.04" fill="#89f85f"/>
<polygon points="205.69,112.2 198.91,109.7 205.67,103.81 212.46,106.26" fill="#76f961"/>
<polygon points="192.12,115.86 185.39,113.37 192.18,107.26 198.91,109.7" fill="#64fa65"/>
<polygon points="178.57,119.74 171.91,117.25 178.71,110.93 185.39,113.37" fill="#60f671"/>
<polygon points="165.07,123.84 158.46,121.35 165.29,114.81 171.91,117.25" fill="#5cf47e"/>
<polygon points="226.19,111.32 219.3,108.76 226.04,103.04 232.94,105.55" fill="#87f85f"/>
<polygon points="212.52,114.75 205.69,112.2 212.46,106.26 219.3,108.76" fill="#74f962"/>
<polygon points="198.89,118.4 192.12,115.86 198.91,109.7 205.69,112.2" fill="#63f966"/>
<polygon points="185.29,122.27 178.57,119.74 185.39,113.37 192.12,115.86" fill="#60f671"/>
<polygon points="171.73,126.37 165.07,123.84 171.91,117.25 178.57,119.74" fill="#5cf47f"/>
<polygon points="219.4,117.35 212.52,114.75 219.3,108.76 226.19,111.32" fill="#72f962"/>
<polygon points="205.71,120.99 198.89,118.4 205.69,112.2 212.52,114.75" fill="#63f967"/>
<polygon points="192.05,124.86 185.29,122.27 192.12,115.86 198.89,118.4" fill="#60f672"/>
<polygon points="178.44,128.96 171.73,126.37 178.57,119.74 185.29,122.27" fill="#5cf480"/>
<polygon points="212.58,123.64 205.71,120.99 212.52,114.75 219.4,117.35" fill="#63f968"/>
<polygon points="198.87,127.51 192.05,124.86 198.89,118.4 205.71,120.99" fill="#60f673"/>
<polygon points="185.19,131.6 178.44,128.96 185.29,122.27 192.05,124.86" fill="#5cf481"/>
<polygon points="205.73,130.21 198.87,127.51 205.71,120.99 212.58,123.64" fill="#60f674"/>
<polygon points="191.99,134.29 185.19,131.6 192.05,124.86 198.87,127.51" fill="#5bf382"/>
<polygon points="198.85,137.04 191.99,134.29 198.87,127.51 205.73,130.21" fill="#5bf383"/>
</g>
<g fill="#000">
<circle cx="75.7" cy="203.13" r="1.25"/>
<circle cx="96.22" cy="212.96" r="1.25"/>
<circle cx="116.73" cy="222.79" r="1.25"/>
<circle cx="137.24" cy="232.62" r="1.25"/>
<circle cx="157.75" cy="242.45" r="1.25"/>
<circle cx="178.27" cy="252.28" r="1.25"/>
<circle cx="198.78" cy="262.11" r="1.25"/>
<circle cx="198.78" cy="262.11" r="1.25"/>
<circle cx="229.62" cy="247.26" r="1.25"/>
<circle cx="260.47" cy="232.41" r="1.25"/>
<circle cx="291.31" cy="217.56" r="1.25"/>
<circle cx="322.16" cy="202.71" r="1.25"/>
<circle cx="73.9" cy="162.6" r="1.25"/>
<circle cx="73.03" cy="144.15" r="1.25"/>
<circle cx="72.16" cy="125.71" r="1.25"/>
<circle cx="71.29" cy="107.26" r="1.25"/>
<circle cx="70.42" cy="88.82" r="1.25"/>
<circle cx="69.55" cy="70.37" r="1.25"/>
<circle cx="68.68" cy="51.93" r="1.25"/>
<circle cx="67.81" cy="33.48" r="1.25"/>
</g>
<g font-family="Liberation Sans, sans-serif" font-size="7.6" fill="#1e1e1e" text-anchor="end">
<text x="69.6" y="160.3">-40</text>
<text x="68.73" y="141.85">-20</text>
<text x="67.86" y="123.41">0</text>
<text x="66.99" y="104.96">20</text>
<text x="66.12" y="86.52">40</text>
<text x="65.25" y="68.07">60</text>
<text x="64.38" y="49.63">80</text>
<text x="63.51" y="31.18">100</text>
<text x="71.5" y="211.03">60</text>
<text x="92.02" y="220.86">51</text>
<text x="112.53" y="230.69">42</text>
<text x="133.04" y="240.52">33</text>
<text x="153.55" y="250.35">24</text>
<text x="174.07" y="260.18">15</text>
<text x="194.58" y="270.01">6</text>
</g><g font-family="Liberation Sans, sans-serif" font-size="7.6" fill="#1e1e1e">
<text x="203.18" y="270.01">4</text>
<text x="234.02" y="255.16">13</text>
<text x="264.87" y="240.31">22</text>
<text x="295.71" y="225.46">31</text>
<text x="326.56" y="210.61">40</text>
</g>
<g stroke="#444" stroke-width="0.9" fill="none">
<line x1="417.2" y1="164.1" x2="543.72" y2="120.51"/>
<line x1="416.32" y1="145.44" x2="543.74" y2="103.78"/>
<line x1="415.43" y1="126.79" x2="543.77" y2="87.05"/>
<line x1="414.55" y1="108.13" x2="543.8" y2="70.32"/>
<line x1="413.67" y1="89.47" x2="543.82" y2="53.6"/>
<line x1="412.78" y1="70.81" x2="543.85" y2="36.87"/>
<line x1="411.9" y1="52.16" x2="543.88" y2="20.14"/>
<line x1="411.02" y1="33.5" x2="543.9" y2="3.41"/>
<line x1="448.83" y1="153.2" x2="444.24" y2="25.98"/>
<line x1="480.46" y1="142.3" x2="477.46" y2="18.46"/>
<line x1="512.09" y1="131.41" x2="510.68" y2="10.93"/>
<line x1="543.72" y1="120.51" x2="670.7" y2="164.4"/>
<line x1="543.74" y1="103.78" x2="671.66" y2="145.71"/>
<line x1="543.77" y1="87.05" x2="672.61" y2="127.01"/>
<line x1="543.8" y1="70.32" x2="673.57" y2="108.32"/>
<line x1="543.82" y1="53.6" x2="674.53" y2="89.63"/>
<line x1="543.85" y1="36.87" x2="675.48" y2="70.93"/>
<line x1="543.88" y1="20.14" x2="676.44" y2="52.24"/>
<line x1="543.9" y1="3.41" x2="677.39" y2="33.54"/>
<line x1="564.88" y1="127.82" x2="566.15" y2="8.43"/>
<line x1="586.04" y1="135.14" x2="588.4" y2="13.46"/>
<line x1="607.21" y1="142.45" x2="610.65" y2="18.48"/>
<line x1="628.37" y1="149.77" x2="632.9" y2="23.5"/>
<line x1="649.54" y1="157.08" x2="655.15" y2="28.52"/>
<line x1="418.87" y1="204.76" x2="411.02" y2="33.5"/>
<line x1="543.66" y1="157.73" x2="543.9" y2="3.41"/>
<line x1="668.94" y1="204.83" x2="677.39" y2="33.54"/>
</g>
<polygon points="418.87,204.76 544.2,264.91 668.94,204.83 543.66,157.73" fill="#646464" stroke="#111" stroke-width="1" stroke-linejoin="round"/>
<path d="M429.4,201.7 Q492.75,228.7 556.1,258.9" fill="none" stroke="#14d26e" stroke-width="1.4"/>
<path d="M443.8,196.1 Q507.15,222.65 570.5,251.6" fill="none" stroke="#14d728" stroke-width="1.4"/>
<path d="M460,190.3 Q523.35,217.9 586.7,244.3" fill="none" stroke="#6edc14" stroke-width="1.4"/>
<path d="M478.7,183 Q541.6,210.2 604.5,235.4" fill="none" stroke="#bedc14" stroke-width="1.4"/>
<path d="M501.6,174.5 Q564.1,198.3 626.6,224.9" fill="none" stroke="#e8cf1c" stroke-width="1.4"/>
<g stroke="#000" stroke-opacity="0.72" stroke-width="0.6" stroke-linejoin="round">
<polygon points="543.88,37.94 537.65,36.39 543.85,34.34 550.09,35.86" fill="#faac3a"/>
<polygon points="550.15,39.5 543.88,37.94 550.09,35.86 556.36,37.39" fill="#faab39"/>
<polygon points="537.64,40.22 531.41,38.64 537.65,36.39 543.88,37.94" fill="#fab13c"/>
<polygon points="556.45,41.08 550.15,39.5 556.36,37.39 562.66,38.94" fill="#faab39"/>
<polygon points="543.91,41.81 537.64,40.22 543.88,37.94 550.15,39.5" fill="#fab13b"/>
<polygon points="531.37,42.7 525.14,41.09 531.41,38.64 537.64,40.22" fill="#fab83e"/>
<polygon points="562.79,42.66 556.45,41.08 562.66,38.94 569,40.49" fill="#faaa39"/>
<polygon points="550.21,43.42 543.91,41.81 550.15,39.5 556.45,41.08" fill="#fab03b"/>
<polygon points="537.64,44.32 531.37,42.7 537.64,40.22 543.91,41.81" fill="#fab83e"/>
<polygon points="525.07,45.38 518.84,43.74 525.14,41.09 531.37,42.7" fill="#fac142"/>
<polygon points="569.16,44.27 562.79,42.66 569,40.49 575.37,42.06" fill="#faaa39"/>
<polygon points="556.55,45.04 550.21,43.42 556.45,41.08 562.79,42.66" fill="#fab03b"/>
<polygon points="543.93,45.96 537.64,44.32 543.91,41.81 550.21,43.42" fill="#fab73e"/>
<polygon points="531.33,47.04 525.07,45.38 531.37,42.7 537.64,44.32" fill="#fac141"/>
<polygon points="518.74,48.27 512.52,46.59 518.84,43.74 525.07,45.38" fill="#facc45"/>
<polygon points="575.57,45.88 569.16,44.27 575.37,42.06 581.78,43.65" fill="#faa939"/>
<polygon points="562.92,46.67 556.55,45.04 562.79,42.66 569.16,44.27" fill="#faaf3b"/>
<polygon points="550.27,47.61 543.93,45.96 550.21,43.42 556.55,45.04" fill="#fab73e"/>
<polygon points="537.63,48.71 531.33,47.04 537.64,44.32 543.93,45.96" fill="#fac041"/>
<polygon points="525,49.96 518.74,48.27 525.07,45.38 531.33,47.04" fill="#facb45"/>
<polygon points="512.38,51.37 506.17,49.65 512.52,46.59 518.74,48.27" fill="#f9d648"/>
<polygon points="582.02,47.52 575.57,45.88 581.78,43.65 588.23,45.25" fill="#faa939"/>
<polygon points="569.33,48.32 562.92,46.67 569.16,44.27 575.57,45.88" fill="#faaf3b"/>
<polygon points="556.64,49.28 550.27,47.61 556.55,45.04 562.92,46.67" fill="#fab73e"/>
<polygon points="543.96,50.4 537.63,48.71 543.93,45.96 550.27,47.61" fill="#fac041"/>
<polygon points="531.29,51.67 525,49.96 531.33,47.04 537.63,48.71" fill="#facb45"/>
<polygon points="518.64,53.1 512.38,51.37 518.74,48.27 525,49.96" fill="#f9d648"/>
<polygon points="506,54.68 499.79,52.93 506.17,49.65 512.38,51.37" fill="#f7e24b"/>
<polygon points="588.51,49.16 582.02,47.52 588.23,45.25 594.72,46.87" fill="#faa938"/>
<polygon points="575.77,49.99 569.33,48.32 575.57,45.88 582.02,47.52" fill="#faaf3b"/>
<polygon points="563.05,50.97 556.64,49.28 562.92,46.67 569.33,48.32" fill="#fab63e"/>
<polygon points="550.33,52.1 543.96,50.4 550.27,47.61 556.64,49.28" fill="#fac041"/>
<polygon points="537.62,53.4 531.29,51.67 537.63,48.71 543.96,50.4" fill="#facb45"/>
<polygon points="524.93,54.85 518.64,53.1 525,49.96 531.29,51.67" fill="#f9d648"/>
<polygon points="512.25,56.45 506,54.68 512.38,51.37 518.64,53.1" fill="#f7e14b"/>
<polygon points="499.59,58.21 493.38,56.42 499.79,52.93 506,54.68" fill="#f6ef4e"/>
<polygon points="595.03,50.83 588.51,49.16 594.72,46.87 601.24,48.5" fill="#faa838"/>
<polygon points="582.26,51.67 575.77,49.99 582.02,47.52 588.51,49.16" fill="#faaf3b"/>
<polygon points="569.49,52.67 563.05,50.97 569.33,48.32 575.77,49.99" fill="#fab63d"/>
<polygon points="556.74,53.82 550.33,52.1 556.64,49.28 563.05,50.97" fill="#fabf41"/>
<polygon points="543.99,55.14 537.62,53.4 543.96,50.4 550.33,52.1" fill="#faca45"/>
<polygon points="531.25,56.61 524.93,54.85 531.29,51.67 537.62,53.4" fill="#f9d548"/>
<polygon points="518.53,58.24 512.25,56.45 518.64,53.1 524.93,54.85" fill="#f7e14b"/>
<polygon points="505.83,60.02 499.59,58.21 506,54.68 512.25,56.45" fill="#f6ef4e"/>
<polygon points="493.15,61.96 486.95,60.12 493.38,56.42 499.59,58.21" fill="#eef652"/>
<polygon points="601.59,52.5 595.03,50.83 601.24,48.5 607.8,50.14" fill="#faa838"/>
<polygon points="588.78,53.36 582.26,51.67 588.51,49.16 595.03,50.83" fill="#faae3a"/>
<polygon points="575.98,54.38 569.49,52.67 575.77,49.99 582.26,51.67" fill="#fab63d"/>
<polygon points="563.18,55.56 556.74,53.82 563.05,50.97 569.49,52.67" fill="#fabf41"/>
<polygon points="550.39,56.89 543.99,55.14 550.33,52.1 556.74,53.82" fill="#faca45"/>
<polygon points="537.61,58.38 531.25,56.61 537.62,53.4 543.99,55.14" fill="#f9d548"/>
<polygon points="524.85,60.04 518.53,58.24 524.93,54.85 531.25,56.61" fill="#f7e14b"/>
<polygon points="512.11,61.84 505.83,60.02 512.25,56.45 518.53,58.24" fill="#f6ee4e"/>
<polygon points="499.39,63.81 493.15,61.96 499.59,58.21 505.83,60.02" fill="#eef652"/>
<polygon points="486.69,65.92 480.49,64.05 486.95,60.12 493.15,61.96" fill="#e1f755"/>
<polygon points="608.2,54.2 601.59,52.5 607.8,50.14 614.4,51.8" fill="#faa838"/>
<polygon points="595.35,55.07 588.78,53.36 595.03,50.83 601.59,52.5" fill="#faae3a"/>
<polygon points="582.5,56.11 575.98,54.38 582.26,51.67 588.78,53.36" fill="#fab63d"/>
<polygon points="569.66,57.31 563.18,55.56 569.49,52.67 575.98,54.38" fill="#fabf41"/>
<polygon points="556.83,58.66 550.39,56.89 556.74,53.82 563.18,55.56" fill="#faca45"/>
<polygon points="544.01,60.18 537.61,58.38 543.99,55.14 550.39,56.89" fill="#f9d548"/>
<polygon points="531.21,61.85 524.85,60.04 531.25,56.61 537.61,58.38" fill="#f7e14b"/>
<polygon points="518.43,63.68 512.11,61.84 518.53,58.24 524.85,60.04" fill="#f6ee4e"/>
<polygon points="505.66,65.67 499.39,63.81 505.83,60.02 512.11,61.84" fill="#eef651"/>
<polygon points="492.92,67.82 486.69,65.92 493.15,61.96 499.39,63.81" fill="#e1f755"/>
<polygon points="480.2,70.12 474.01,68.2 480.49,64.05 486.69,65.92" fill="#d2f958"/>
<polygon points="614.84,55.91 608.2,54.2 614.4,51.8 621.05,53.48" fill="#faa838"/>
<polygon points="601.95,56.8 595.35,55.07 601.59,52.5 608.2,54.2" fill="#faae3a"/>
<polygon points="589.06,57.86 582.5,56.11 588.78,53.36 595.35,55.07" fill="#fab63d"/>
<polygon points="576.18,59.07 569.66,57.31 575.98,54.38 582.5,56.11" fill="#fabf41"/>
<polygon points="563.31,60.45 556.83,58.66 563.18,55.56 569.66,57.31" fill="#faca45"/>
<polygon points="550.45,61.99 544.01,60.18 550.39,56.89 556.83,58.66" fill="#f9d548"/>
<polygon points="537.61,63.68 531.21,61.85 537.61,58.38 544.01,60.18" fill="#f7e14b"/>
<polygon points="524.78,65.54 518.43,63.68 524.85,60.04 531.21,61.85" fill="#f6ee4e"/>
<polygon points="511.97,67.55 505.66,65.67 512.11,61.84 518.43,63.68" fill="#eef651"/>
<polygon points="499.19,69.73 492.92,67.82 499.39,63.81 505.66,65.67" fill="#e1f755"/>
<polygon points="486.43,72.05 480.2,70.12 486.69,65.92 492.92,67.82" fill="#d2f958"/>
<polygon points="473.69,74.54 467.51,72.57 474.01,68.2 480.2,70.12" fill="#c1fa5b"/>
<polygon points="621.52,57.63 614.84,55.91 621.05,53.48 627.73,55.17" fill="#faa838"/>
<polygon points="608.59,58.55 601.95,56.8 608.2,54.2 614.84,55.91" fill="#faae3a"/>
<polygon points="595.66,59.62 589.06,57.86 595.35,55.07 601.95,56.8" fill="#fab63d"/>
<polygon points="582.74,60.86 576.18,59.07 582.5,56.11 589.06,57.86" fill="#fabf41"/>
<polygon points="569.83,62.25 563.31,60.45 569.66,57.31 576.18,59.07" fill="#faca45"/>
<polygon points="556.93,63.81 550.45,61.99 556.83,58.66 563.31,60.45" fill="#f9d548"/>
<polygon points="544.04,65.53 537.61,63.68 544.01,60.18 550.45,61.99" fill="#f7e14b"/>
<polygon points="531.17,67.41 524.78,65.54 531.21,61.85 537.61,63.68" fill="#f6ee4e"/>
<polygon points="518.32,69.45 511.97,67.55 518.43,63.68 524.78,65.54" fill="#eef652"/>
<polygon points="505.49,71.65 499.19,69.73 505.66,65.67 511.97,67.55" fill="#e1f755"/>
<polygon points="492.69,74.01 486.43,72.05 492.92,67.82 499.19,69.73" fill="#d2f958"/>
<polygon points="479.91,76.52 473.69,74.54 480.2,70.12 486.43,72.05" fill="#c1fa5b"/>
<polygon points="467.16,79.19 460.99,77.17 467.51,72.57 473.69,74.54" fill="#aef95c"/>
<polygon points="628.25,59.38 621.52,57.63 627.73,55.17 634.45,56.88" fill="#faa838"/>
<polygon points="615.28,60.31 608.59,58.55 614.84,55.91 621.52,57.63" fill="#faae3a"/>
<polygon points="602.31,61.4 595.66,59.62 601.95,56.8 608.59,58.55" fill="#fab63d"/>
<polygon points="589.34,62.66 582.74,60.86 589.06,57.86 595.66,59.62" fill="#fabf41"/>
<polygon points="576.39,64.08 569.83,62.25 576.18,59.07 582.74,60.86" fill="#faca45"/>
<polygon points="563.44,65.66 556.93,63.81 563.31,60.45 569.83,62.25" fill="#f9d548"/>
<polygon points="550.51,67.4 544.04,65.53 550.45,61.99 556.93,63.81" fill="#f7e14b"/>
<polygon points="537.6,69.3 531.17,67.41 537.61,63.68 544.04,65.53" fill="#f6ee4e"/>
<polygon points="524.7,71.37 518.32,69.45 524.78,65.54 531.17,67.41" fill="#eef652"/>
<polygon points="511.83,73.59 505.49,71.65 511.97,67.55 518.32,69.45" fill="#e1f755"/>
<polygon points="498.98,75.98 492.69,74.01 499.19,69.73 505.49,71.65" fill="#d2f958"/>
<polygon points="486.16,78.52 479.91,76.52 486.43,72.05 492.69,74.01" fill="#c1fa5b"/>
<polygon points="473.37,81.22 467.16,79.19 473.69,74.54 479.91,76.52" fill="#adf95c"/>
<polygon points="460.61,84.07 454.44,82.01 460.99,77.17 467.16,79.19" fill="#98f95e"/>
<polygon points="635.02,61.14 628.25,59.38 634.45,56.88 641.22,58.61" fill="#faa838"/>
<polygon points="622,62.08 615.28,60.31 621.52,57.63 628.25,59.38" fill="#faae3a"/>
<polygon points="608.99,63.2 602.31,61.4 608.59,58.55 615.28,60.31" fill="#fab63d"/>
<polygon points="595.99,64.47 589.34,62.66 595.66,59.62 602.31,61.4" fill="#fabf41"/>
<polygon points="582.99,65.91 576.39,64.08 582.74,60.86 589.34,62.66" fill="#faca45"/>
<polygon points="570,67.52 563.44,65.66 569.83,62.25 576.39,64.08" fill="#f9d548"/>
<polygon points="557.03,69.28 550.51,67.4 556.93,63.81 563.44,65.66" fill="#f7e14b"/>
<polygon points="544.07,71.21 537.6,69.3 544.04,65.53 550.51,67.4" fill="#f6ee4e"/>
<polygon points="531.13,73.3 524.7,71.37 531.17,67.41 537.6,69.3" fill="#eef652"/>
<polygon points="518.21,75.55 511.83,73.59 518.32,69.45 524.7,71.37" fill="#e1f755"/>
<polygon points="505.32,77.97 498.98,75.98 505.49,71.65 511.83,73.59" fill="#d2f958"/>
<polygon points="492.45,80.54 486.16,78.52 492.69,74.01 498.98,75.98" fill="#c1fa5b"/>
<polygon points="479.61,83.26 473.37,81.22 479.91,76.52 486.16,78.52" fill="#adf95c"/>
<polygon points="466.81,86.15 460.61,84.07 467.16,79.19 473.37,81.22" fill="#98f95e"/>
<polygon points="454.03,89.19 447.88,87.07 454.44,82.01 460.61,84.07" fill="#82f860"/>
<polygon points="641.83,62.91 635.02,61.14 641.22,58.61 648.03,60.35" fill="#faa838"/>
<polygon points="628.77,63.88 622,62.08 628.25,59.38 635.02,61.14" fill="#faae3a"/>
<polygon points="615.72,65.01 608.99,63.2 615.28,60.31 622,62.08" fill="#fab63d"/>
<polygon points="602.67,66.31 595.99,64.47 602.31,61.4 608.99,63.2" fill="#fabf41"/>
<polygon points="589.63,67.77 582.99,65.91 589.34,62.66 595.99,64.47" fill="#faca45"/>
<polygon points="576.6,69.4 570,67.52 576.39,64.08 582.99,65.91" fill="#f9d548"/>
<polygon points="563.58,71.19 557.03,69.28 563.44,65.66 570,67.52" fill="#f7e14b"/>
<polygon points="550.58,73.14 544.07,71.21 550.51,67.4 557.03,69.28" fill="#f6ef4e"/>
<polygon points="537.59,75.26 531.13,73.3 537.6,69.3 544.07,71.21" fill="#eef652"/>
<polygon points="524.63,77.53 518.21,75.55 524.7,71.37 531.13,73.3" fill="#e0f755"/>
<polygon points="511.69,79.97 505.32,77.97 511.83,73.59 518.21,75.55" fill="#d2f958"/>
<polygon points="498.78,82.57 492.45,80.54 498.98,75.98 505.32,77.97" fill="#c1fa5b"/>
<polygon points="485.89,85.33 479.61,83.26 486.16,78.52 492.45,80.54" fill="#adf95c"/>
<polygon points="473.04,88.24 466.81,86.15 473.37,81.22 479.61,83.26" fill="#98f95e"/>
<polygon points="460.22,91.32 454.03,89.19 460.61,84.07 466.81,86.15" fill="#82f860"/>
<polygon points="447.44,94.54 441.3,92.38 447.88,87.07 454.03,89.19" fill="#6df963"/>
<polygon points="648.69,64.71 641.83,62.91 648.03,60.35 654.89,62.11" fill="#faa838"/>
<polygon points="635.59,65.69 628.77,63.88 635.02,61.14 641.83,62.91" fill="#faae3a"/>
<polygon points="622.49,66.84 615.72,65.01 622,62.08 628.77,63.88" fill="#fab63d"/>
<polygon points="609.4,68.16 602.67,66.31 608.99,63.2 615.72,65.01" fill="#fabf41"/>
<polygon points="596.31,69.64 589.63,67.77 595.99,64.47 602.67,66.31" fill="#facb45"/>
<polygon points="583.23,71.29 576.6,69.4 582.99,65.91 589.63,67.77" fill="#f9d648"/>
<polygon points="570.17,73.1 563.58,71.19 570,67.52 576.6,69.4" fill="#f7e14b"/>
<polygon points="557.12,75.08 550.58,73.14 557.03,69.28 563.58,71.19" fill="#f6ef4e"/>
<polygon points="544.09,77.23 537.59,75.26 544.07,71.21 550.58,73.14" fill="#eef652"/>
<polygon points="531.09,79.53 524.63,77.53 531.13,73.3 537.59,75.26" fill="#e0f755"/>
<polygon points="518.1,82 511.69,79.97 518.21,75.55 524.63,77.53" fill="#d1f958"/>
<polygon points="505.14,84.63 498.78,82.57 505.32,77.97 511.69,79.97" fill="#c1fa5b"/>
<polygon points="492.21,87.41 485.89,85.33 492.45,80.54 498.78,82.57" fill="#adf95c"/>
<polygon points="479.31,90.36 473.04,88.24 479.61,83.26 485.89,85.33" fill="#98f95e"/>
<polygon points="466.45,93.47 460.22,91.32 466.81,86.15 473.04,88.24" fill="#82f860"/>
<polygon points="453.62,96.73 447.44,94.54 454.03,89.19 460.22,91.32" fill="#6dfa63"/>
<polygon points="440.83,100.14 434.7,97.92 441.3,92.38 447.44,94.54" fill="#62f86b"/>
<polygon points="655.59,66.52 648.69,64.71 654.89,62.11 661.78,63.89" fill="#faa838"/>
<polygon points="642.44,67.52 635.59,65.69 641.83,62.91 648.69,64.71" fill="#faae3b"/>
<polygon points="629.3,68.69 622.49,66.84 628.77,63.88 635.59,65.69" fill="#fab63d"/>
<polygon points="616.17,70.03 609.4,68.16 615.72,65.01 622.49,66.84" fill="#fac041"/>
<polygon points="603.04,71.53 596.31,69.64 602.67,66.31 609.4,68.16" fill="#facb45"/>
<polygon points="589.92,73.21 583.23,71.29 589.63,67.77 596.31,69.64" fill="#f9d648"/>
<polygon points="576.81,75.04 570.17,73.1 576.6,69.4 583.23,71.29" fill="#f7e24b"/>
<polygon points="563.71,77.05 557.12,75.08 563.58,71.19 570.17,73.1" fill="#f6ef4f"/>
<polygon points="550.64,79.21 544.09,77.23 550.58,73.14 557.12,75.08" fill="#eef652"/>
<polygon points="537.58,81.55 531.09,79.53 537.59,75.26 544.09,77.23" fill="#e0f755"/>
<polygon points="524.55,84.04 518.1,82 524.63,77.53 531.09,79.53" fill="#d1f958"/>
<polygon points="511.55,86.7 505.14,84.63 511.69,79.97 518.1,82" fill="#c0fa5b"/>
<polygon points="498.57,89.52 492.21,87.41 498.78,82.57 505.14,84.63" fill="#adf95c"/>
<polygon points="485.62,92.5 479.31,90.36 485.89,85.33 492.21,87.41" fill="#97f95e"/>
<polygon points="472.71,95.63 466.45,93.47 473.04,88.24 479.31,90.36" fill="#82f860"/>
<polygon points="459.83,98.93 453.62,96.73 460.22,91.32 466.45,93.47" fill="#6cfa63"/>
<polygon points="447,102.38 440.83,100.14 447.44,94.54 453.62,96.73" fill="#62f86b"/>
<polygon points="434.2,105.98 428.08,103.71 434.7,97.92 440.83,100.14" fill="#5ef578"/>
<polygon points="662.53,68.35 655.59,66.52 661.78,63.89 668.73,65.69" fill="#faa938"/>
<polygon points="649.35,69.37 642.44,67.52 648.69,64.71 655.59,66.52" fill="#faaf3b"/>
<polygon points="636.16,70.56 629.3,68.69 635.59,65.69 642.44,67.52" fill="#fab73e"/>
<polygon points="622.98,71.92 616.17,70.03 622.49,66.84 629.3,68.69" fill="#fac041"/>
<polygon points="609.8,73.44 603.04,71.53 609.4,68.16 616.17,70.03" fill="#facb45"/>
<polygon points="596.64,75.14 589.92,73.21 596.31,69.64 603.04,71.53" fill="#f9d648"/>
<polygon points="583.48,77 576.81,75.04 583.23,71.29 589.92,73.21" fill="#f7e24b"/>
<polygon points="570.35,79.03 563.71,77.05 570.17,73.1 576.81,75.04" fill="#f6ef4f"/>
<polygon points="557.22,81.22 550.64,79.21 557.12,75.08 563.71,77.05" fill="#edf652"/>
<polygon points="544.12,83.58 537.58,81.55 544.09,77.23 550.64,79.21" fill="#e0f755"/>
<polygon points="531.04,86.1 524.55,84.04 531.09,79.53 537.58,81.55" fill="#d1f958"/>
<polygon points="517.99,88.79 511.55,86.7 518.1,82 524.55,84.04" fill="#c0fa5b"/>
<polygon points="504.96,91.64 498.57,89.52 505.14,84.63 511.55,86.7" fill="#acf95c"/>
<polygon points="491.97,94.65 485.62,92.5 492.21,87.41 498.57,89.52" fill="#97f85e"/>
<polygon points="479.01,97.82 472.71,95.63 479.31,90.36 485.62,92.5" fill="#81f860"/>
<polygon points="466.08,101.15 459.83,98.93 466.45,93.47 472.71,95.63" fill="#6cfa63"/>
<polygon points="453.2,104.64 447,102.38 453.62,96.73 459.83,98.93" fill="#62f86b"/>
<polygon points="440.35,108.28 434.2,105.98 440.83,100.14 447,102.38" fill="#5ef578"/>
<polygon points="427.55,112.07 421.45,109.74 428.08,103.71 434.2,105.98" fill="#59f388"/>
<polygon points="669.53,70.2 662.53,68.35 668.73,65.69 675.72,67.5" fill="#faa938"/>
<polygon points="656.3,71.24 649.35,69.37 655.59,66.52 662.53,68.35" fill="#faaf3b"/>
<polygon points="643.07,72.45 636.16,70.56 642.44,67.52 649.35,69.37" fill="#fab73e"/>
<polygon points="629.84,73.83 622.98,71.92 629.3,68.69 636.16,70.56" fill="#fac041"/>
<polygon points="616.62,75.37 609.8,73.44 616.17,70.03 622.98,71.92" fill="#facb45"/>
<polygon points="603.41,77.09 596.64,75.14 603.04,71.53 609.8,73.44" fill="#f9d648"/>
<polygon points="590.21,78.97 583.48,77 589.92,73.21 596.64,75.14" fill="#f7e24b"/>
<polygon points="577.02,81.03 570.35,79.03 576.81,75.04 583.48,77" fill="#f6f04f"/>
<polygon points="563.85,83.25 557.22,81.22 563.71,77.05 570.35,79.03" fill="#edf652"/>
<polygon points="550.7,85.63 544.12,83.58 550.64,79.21 557.22,81.22" fill="#dff755"/>
<polygon points="537.57,88.19 531.04,86.1 537.58,81.55 544.12,83.58" fill="#d1f958"/>
<polygon points="524.47,90.9 517.99,88.79 524.55,84.04 531.04,86.1" fill="#c0fa5b"/>
<polygon points="511.4,93.78 504.96,91.64 511.55,86.7 517.99,88.79" fill="#acf95c"/>
<polygon points="498.36,96.83 491.97,94.65 498.57,89.52 504.96,91.64" fill="#97f85e"/>
<polygon points="485.35,100.03 479.01,97.82 485.62,92.5 491.97,94.65" fill="#81f860"/>
<polygon points="472.37,103.39 466.08,101.15 472.71,95.63 479.01,97.82" fill="#6cfa63"/>
<polygon points="459.44,106.91 453.2,104.64 459.83,98.93 466.08,101.15" fill="#62f86c"/>
<polygon points="446.55,110.59 440.35,108.28 447,102.38 453.2,104.64" fill="#5ef578"/>
<polygon points="433.7,114.42 427.55,112.07 434.2,105.98 440.35,108.28" fill="#59f388"/>
<polygon points="420.89,118.41 414.8,116.02 421.45,109.74 427.55,112.07" fill="#5bf29d"/>
<polygon points="663.29,73.13 656.3,71.24 662.53,68.35 669.53,70.2" fill="#faaf3b"/>
<polygon points="650.02,74.36 643.07,72.45 649.35,69.37 656.3,71.24" fill="#fab73e"/>
<polygon points="636.74,75.75 629.84,73.83 636.16,70.56 643.07,72.45" fill="#fac141"/>
<polygon points="623.48,77.32 616.62,75.37 622.98,71.92 629.84,73.83" fill="#facc46"/>
<polygon points="610.22,79.06 603.41,77.09 609.8,73.44 616.62,75.37" fill="#f9d748"/>
<polygon points="596.97,80.97 590.21,78.97 596.64,75.14 603.41,77.09" fill="#f7e34b"/>
<polygon points="583.74,83.05 577.02,81.03 583.48,77 590.21,78.97" fill="#f6f04f"/>
<polygon points="570.52,85.29 563.85,83.25 570.35,79.03 577.02,81.03" fill="#edf652"/>
<polygon points="557.32,87.71 550.7,85.63 557.22,81.22 563.85,83.25" fill="#dff755"/>
<polygon points="544.15,90.29 537.57,88.19 544.12,83.58 550.7,85.63" fill="#d0f958"/>
<polygon points="531,93.03 524.47,90.9 531.04,86.1 537.57,88.19" fill="#bffa5b"/>
<polygon points="517.88,95.94 511.4,93.78 517.99,88.79 524.47,90.9" fill="#abf95c"/>
<polygon points="504.78,99.02 498.36,96.83 504.96,91.64 511.4,93.78" fill="#96f85e"/>
<polygon points="491.73,102.26 485.35,100.03 491.97,94.65 498.36,96.83" fill="#81f860"/>
<polygon points="478.7,105.65 472.37,103.39 479.01,97.82 485.35,100.03" fill="#6bfa63"/>
<polygon points="465.72,109.21 459.44,106.91 466.08,101.15 472.37,103.39" fill="#62f86c"/>
<polygon points="452.78,112.93 446.55,110.59 453.2,104.64 459.44,106.91" fill="#5ef579"/>
<polygon points="439.88,116.8 433.7,114.42 440.35,108.28 446.55,110.59" fill="#59f388"/>
<polygon points="427.02,120.82 420.89,118.41 427.55,112.07 433.7,114.42" fill="#5bf29d"/>
<polygon points="657.02,76.28 650.02,74.36 656.3,71.24 663.29,73.13" fill="#fab83e"/>
<polygon points="643.7,77.7 636.74,75.75 643.07,72.45 650.02,74.36" fill="#fac142"/>
<polygon points="630.38,79.29 623.48,77.32 629.84,73.83 636.74,75.75" fill="#facc46"/>
<polygon points="617.08,81.05 610.22,79.06 616.62,75.37 623.48,77.32" fill="#f9d748"/>
<polygon points="603.78,82.98 596.97,80.97 603.41,77.09 610.22,79.06" fill="#f7e34c"/>
<polygon points="590.5,85.09 583.74,83.05 590.21,78.97 596.97,80.97" fill="#f6f04f"/>
<polygon points="577.23,87.36 570.52,85.29 577.02,81.03 583.74,83.05" fill="#ecf652"/>
<polygon points="563.99,89.8 557.32,87.71 563.85,83.25 570.52,85.29" fill="#dff755"/>
<polygon points="550.76,92.41 544.15,90.29 550.7,85.63 557.32,87.71" fill="#d0f958"/>
<polygon points="537.57,95.18 531,93.03 537.57,88.19 544.15,90.29" fill="#bffa5b"/>
<polygon points="524.39,98.13 517.88,95.94 524.47,90.9 531,93.03" fill="#abf95c"/>
<polygon points="511.25,101.23 504.78,99.02 511.4,93.78 517.88,95.94" fill="#96f85e"/>
<polygon points="498.14,104.5 491.73,102.26 498.36,96.83 504.78,99.02" fill="#80f860"/>
<polygon points="485.07,107.94 478.7,105.65 485.35,100.03 491.73,102.26" fill="#6bfa63"/>
<polygon points="472.04,111.53 465.72,109.21 472.37,103.39 478.7,105.65" fill="#62f86c"/>
<polygon points="459.04,115.28 452.78,112.93 459.44,106.91 465.72,109.21" fill="#5ef579"/>
<polygon points="446.09,119.19 439.88,116.8 446.55,110.59 452.78,112.93" fill="#59f288"/>
<polygon points="433.19,123.26 427.02,120.82 433.7,114.42 439.88,116.8" fill="#5cf29e"/>
<polygon points="650.7,79.67 643.7,77.7 650.02,74.36 657.02,76.28" fill="#fac242"/>
<polygon points="637.33,81.28 630.38,79.29 636.74,75.75 643.7,77.7" fill="#facd46"/>
<polygon points="623.98,83.06 617.08,81.05 623.48,77.32 630.38,79.29" fill="#f9d749"/>
<polygon points="610.64,85.02 603.78,82.98 610.22,79.06 617.08,81.05" fill="#f7e34c"/>
<polygon points="597.31,87.15 590.5,85.09 596.97,80.97 603.78,82.98" fill="#f6f14f"/>
<polygon points="583.99,89.44 577.23,87.36 583.74,83.05 590.5,85.09" fill="#ecf652"/>
<polygon points="570.7,91.91 563.99,89.8 570.52,85.29 577.23,87.36" fill="#def855"/>
<polygon points="557.42,94.55 550.76,92.41 557.32,87.71 563.99,89.8" fill="#d0f958"/>
<polygon points="544.18,97.36 537.57,95.18 544.15,90.29 550.76,92.41" fill="#befa5b"/>
<polygon points="530.95,100.33 524.39,98.13 531,93.03 537.57,95.18" fill="#abf95c"/>
<polygon points="517.76,103.47 511.25,101.23 517.88,95.94 524.39,98.13" fill="#95f85e"/>
<polygon points="504.6,106.77 498.14,104.5 504.78,99.02 511.25,101.23" fill="#80f860"/>
<polygon points="491.48,110.24 485.07,107.94 491.73,102.26 498.14,104.5" fill="#6afa63"/>
<polygon points="478.39,113.87 472.04,111.53 478.7,105.65 485.07,107.94" fill="#62f86c"/>
<polygon points="465.35,117.66 459.04,115.28 465.72,109.21 472.04,111.53" fill="#5ef579"/>
<polygon points="452.35,121.61 446.09,119.19 452.78,112.93 459.04,115.28" fill="#59f289"/>
<polygon points="439.39,125.71 433.19,123.26 439.88,116.8 446.09,119.19" fill="#5cf29e"/>
<polygon points="644.33,83.29 637.33,81.28 643.7,77.7 650.7,79.67" fill="#facd46"/>
<polygon points="630.93,85.09 623.98,83.06 630.38,79.29 637.33,81.28" fill="#f9d849"/>
<polygon points="617.54,87.07 610.64,85.02 617.08,81.05 623.98,83.06" fill="#f7e44c"/>
<polygon points="604.16,89.23 597.31,87.15 603.78,82.98 610.64,85.02" fill="#f5f14f"/>
<polygon points="590.8,91.55 583.99,89.44 590.5,85.09 597.31,87.15" fill="#ecf652"/>
<polygon points="577.45,94.05 570.7,91.91 577.23,87.36 583.99,89.44" fill="#def855"/>
<polygon points="564.13,96.71 557.42,94.55 563.99,89.8 570.7,91.91" fill="#cff958"/>
<polygon points="550.83,99.55 544.18,97.36 550.76,92.41 557.42,94.55" fill="#befa5b"/>
<polygon points="537.56,102.55 530.95,100.33 537.57,95.18 544.18,97.36" fill="#aaf95c"/>
<polygon points="524.31,105.73 517.76,103.47 524.39,98.13 530.95,100.33" fill="#95f85e"/>
<polygon points="511.1,109.06 504.6,106.77 511.25,101.23 517.76,103.47" fill="#7ff860"/>
<polygon points="497.93,112.57 491.48,110.24 498.14,104.5 504.6,106.77" fill="#6afa63"/>
<polygon points="484.79,116.23 478.39,113.87 485.07,107.94 491.48,110.24" fill="#62f86d"/>
<polygon points="471.69,120.06 465.35,117.66 472.04,111.53 478.39,113.87" fill="#5ef579"/>
<polygon points="458.64,124.04 452.35,121.61 459.04,115.28 465.35,117.66" fill="#59f289"/>
<polygon points="445.63,128.19 439.39,125.71 446.09,119.19 452.35,121.61" fill="#5cf29f"/>
<polygon points="637.93,87.14 630.93,85.09 637.33,81.28 644.33,83.29" fill="#f9d849"/>
<polygon points="624.49,89.15 617.54,87.07 623.98,83.06 630.93,85.09" fill="#f7e44c"/>
<polygon points="611.06,91.33 604.16,89.23 610.64,85.02 617.54,87.07" fill="#f5f24f"/>
<polygon points="597.65,93.68 590.8,91.55 597.31,87.15 604.16,89.23" fill="#ebf652"/>
<polygon points="584.25,96.2 577.45,94.05 583.99,89.44 590.8,91.55" fill="#ddf855"/>
<polygon points="570.88,98.9 564.13,96.71 570.7,91.91 577.45,94.05" fill="#cff959"/>
<polygon points="557.53,101.76 550.83,99.55 557.42,94.55 564.13,96.71" fill="#bdfa5b"/>
<polygon points="544.2,104.8 537.56,102.55 544.18,97.36 550.83,99.55" fill="#a9f95c"/>
<polygon points="530.91,108 524.31,105.73 530.95,100.33 537.56,102.55" fill="#94f85e"/>
<polygon points="517.65,111.37 511.1,109.06 517.76,103.47 524.31,105.73" fill="#7ff860"/>
<polygon points="504.42,114.91 497.93,112.57 504.6,106.77 511.1,109.06" fill="#69fa63"/>
<polygon points="491.23,118.61 484.79,116.23 491.48,110.24 497.93,112.57" fill="#62f86d"/>
<polygon points="478.08,122.48 471.69,120.06 478.39,113.87 484.79,116.23" fill="#5ef47a"/>
<polygon points="464.97,126.5 458.64,124.04 465.35,117.66 471.69,120.06" fill="#59f289"/>
<polygon points="451.91,130.69 445.63,128.19 452.35,121.61 458.64,124.04" fill="#5cf29f"/>
<polygon points="631.49,91.25 624.49,89.15 630.93,85.09 637.93,87.14" fill="#f7e54c"/>
<polygon points="618.01,93.45 611.06,91.33 617.54,87.07 624.49,89.15" fill="#f5f24f"/>
<polygon points="604.54,95.83 597.65,93.68 604.16,89.23 611.06,91.33" fill="#ebf652"/>
<polygon points="591.1,98.38 584.25,96.2 590.8,91.55 597.65,93.68" fill="#ddf855"/>
<polygon points="577.67,101.1 570.88,98.9 577.45,94.05 584.25,96.2" fill="#cef959"/>
<polygon points="564.27,104 557.53,101.76 564.13,96.71 570.88,98.9" fill="#bdfa5b"/>
<polygon points="550.89,107.07 544.2,104.8 550.83,99.55 557.53,101.76" fill="#a9f95c"/>
<polygon points="537.55,110.3 530.91,108 537.56,102.55 544.2,104.8" fill="#94f85e"/>
<polygon points="524.23,113.71 517.65,111.37 524.31,105.73 530.91,108" fill="#7ef960"/>
<polygon points="510.95,117.28 504.42,114.91 511.1,109.06 517.65,111.37" fill="#69fa63"/>
<polygon points="497.71,121.02 491.23,118.61 497.93,112.57 504.42,114.91" fill="#61f76d"/>
<polygon points="484.51,124.92 478.08,122.48 484.79,116.23 491.23,118.61" fill="#5ef47a"/>
<polygon points="471.35,128.98 464.97,126.5 471.69,120.06 478.08,122.48" fill="#59f28a"/>
<polygon points="458.24,133.21 451.91,130.69 458.64,124.04 464.97,126.5" fill="#5cf2a0"/>
<polygon points="625,95.59 618.01,93.45 624.49,89.15 631.49,91.25" fill="#f5f350"/>
<polygon points="611.49,98 604.54,95.83 611.06,91.33 618.01,93.45" fill="#eaf652"/>
<polygon points="597.99,100.58 591.1,98.38 597.65,93.68 604.54,95.83" fill="#dcf855"/>
<polygon points="584.51,103.33 577.67,101.1 584.25,96.2 591.1,98.38" fill="#cef959"/>
<polygon points="571.06,106.26 564.27,104 570.88,98.9 577.67,101.1" fill="#bcfa5b"/>
<polygon points="557.63,109.36 550.89,107.07 557.53,101.76 564.27,104" fill="#a8f95c"/>
<polygon points="544.23,112.62 537.55,110.3 544.2,104.8 550.89,107.07" fill="#93f85e"/>
<polygon points="530.86,116.06 524.23,113.71 530.91,108 537.55,110.3" fill="#7ef960"/>
<polygon points="517.53,119.67 510.95,117.28 517.65,111.37 524.23,113.71" fill="#68fa63"/>
<polygon points="504.23,123.45 497.71,121.02 504.42,114.91 510.95,117.28" fill="#61f76d"/>
<polygon points="490.98,127.39 484.51,124.92 491.23,118.61 497.71,121.02" fill="#5ef47b"/>
<polygon points="477.76,131.49 471.35,128.98 478.08,122.48 484.51,124.92" fill="#59f28a"/>
<polygon points="464.6,135.75 458.24,133.21 464.97,126.5 471.35,128.98" fill="#5cf2a0"/>
<polygon points="618.48,100.19 611.49,98 618.01,93.45 625,95.59" fill="#eaf653"/>
<polygon points="604.93,102.8 597.99,100.58 604.54,95.83 611.49,98" fill="#dcf856"/>
<polygon points="591.4,105.58 584.51,103.33 591.1,98.38 597.99,100.58" fill="#cdf959"/>
<polygon points="577.89,108.54 571.06,106.26 577.67,101.1 584.51,103.33" fill="#bbfa5b"/>
<polygon points="564.41,111.67 557.63,109.36 564.27,104 571.06,106.26" fill="#a7f95d"/>
<polygon points="550.96,114.97 544.23,112.62 550.89,107.07 557.63,109.36" fill="#92f85e"/>
<polygon points="537.54,118.44 530.86,116.06 537.55,110.3 544.23,112.62" fill="#7df960"/>
<polygon points="524.15,122.09 517.53,119.67 524.23,113.71 530.86,116.06" fill="#68fa63"/>
<polygon points="510.8,125.9 504.23,123.45 510.95,117.28 517.53,119.67" fill="#61f76e"/>
<polygon points="497.49,129.88 490.98,127.39 497.71,121.02 504.23,123.45" fill="#5df47b"/>
<polygon points="484.22,134.02 477.76,131.49 484.51,124.92 490.98,127.39" fill="#58f28b"/>
<polygon points="471,138.32 464.6,135.75 471.35,128.98 477.76,131.49" fill="#5cf2a1"/>
<polygon points="611.92,105.04 604.93,102.8 611.49,98 618.48,100.19" fill="#dbf856"/>
<polygon points="598.34,107.85 591.4,105.58 597.99,100.58 604.93,102.8" fill="#ccfa59"/>
<polygon points="584.77,110.84 577.89,108.54 584.51,103.33 591.4,105.58" fill="#bbfa5b"/>
<polygon points="571.24,114 564.41,111.67 571.06,106.26 577.89,108.54" fill="#a7f95d"/>
<polygon points="557.73,117.34 550.96,114.97 557.63,109.36 564.41,111.67" fill="#92f85e"/>
<polygon points="544.26,120.85 537.54,118.44 544.23,112.62 550.96,114.97" fill="#7cf961"/>
<polygon points="530.81,124.52 524.15,122.09 530.86,116.06 537.54,118.44" fill="#67fa64"/>
<polygon points="517.41,128.37 510.8,125.9 517.53,119.67 524.15,122.09" fill="#61f76e"/>
<polygon points="504.04,132.39 497.49,129.88 504.23,123.45 510.8,125.9" fill="#5df47b"/>
<polygon points="490.72,136.57 484.22,134.02 490.98,127.39 497.49,129.88" fill="#58f28b"/>
<polygon points="477.44,140.92 471,138.32 477.76,131.49 484.22,134.02" fill="#5cf2a1"/>
<polygon points="605.32,110.15 598.34,107.85 604.93,102.8 611.92,105.04" fill="#ccfa59"/>
<polygon points="591.71,113.17 584.77,110.84 591.4,105.58 598.34,107.85" fill="#bafa5b"/>
<polygon points="578.12,116.36 571.24,114 577.89,108.54 584.77,110.84" fill="#a6f95d"/>
<polygon points="564.55,119.73 557.73,117.34 564.41,111.67 571.24,114" fill="#91f85e"/>
<polygon points="551.02,123.27 544.26,120.85 550.96,114.97 557.73,117.34" fill="#7cf961"/>
<polygon points="537.52,126.99 530.81,124.52 537.54,118.44 544.26,120.85" fill="#66fa64"/>
<polygon points="524.06,130.87 517.41,128.37 524.15,122.09 530.81,124.52" fill="#61f76f"/>
<polygon points="510.64,134.92 504.04,132.39 510.8,125.9 517.41,128.37" fill="#5df47c"/>
<polygon points="497.26,139.15 490.72,136.57 497.49,129.88 504.04,132.39" fill="#58f28c"/>
<polygon points="483.93,143.53 477.44,140.92 484.22,134.02 490.72,136.57" fill="#5df2a2"/>
<polygon points="598.69,115.52 591.71,113.17 598.34,107.85 605.32,110.15" fill="#b9fa5b"/>
<polygon points="585.04,118.74 578.12,116.36 584.77,110.84 591.71,113.17" fill="#a5f95d"/>
<polygon points="571.42,122.14 564.55,119.73 571.24,114 578.12,116.36" fill="#90f85e"/>
<polygon points="557.84,125.72 551.02,123.27 557.73,117.34 564.55,119.73" fill="#7bf961"/>
<polygon points="544.28,129.47 537.52,126.99 544.26,120.85 551.02,123.27" fill="#65fa64"/>
<polygon points="530.76,133.39 524.06,130.87 530.81,124.52 537.52,126.99" fill="#61f76f"/>
<polygon points="517.29,137.49 510.64,134.92 517.41,128.37 524.06,130.87" fill="#5df47c"/>
<polygon points="503.85,141.75 497.26,139.15 504.04,132.39 510.64,134.92" fill="#58f28c"/>
<polygon points="490.46,146.18 483.93,143.53 490.72,136.57 497.26,139.15" fill="#5df2a3"/>
<polygon points="592.02,121.15 585.04,118.74 591.71,113.17 598.69,115.52" fill="#a4f95d"/>
<polygon points="578.34,124.58 571.42,122.14 578.12,116.36 585.04,118.74" fill="#8ff85e"/>
<polygon points="564.7,128.2 557.84,125.72 564.55,119.73 571.42,122.14" fill="#7af961"/>
<polygon points="551.09,131.98 544.28,129.47 551.02,123.27 557.84,125.72" fill="#65fa64"/>
<polygon points="537.51,135.94 530.76,133.39 537.52,126.99 544.28,129.47" fill="#61f76f"/>
<polygon points="523.98,140.07 517.29,137.49 524.06,130.87 530.76,133.39" fill="#5df47d"/>
<polygon points="510.48,144.37 503.85,141.75 510.64,134.92 517.29,137.49" fill="#58f28d"/>
<polygon points="497.04,148.84 490.46,146.18 497.26,139.15 503.85,141.75" fill="#5df2a3"/>
<polygon points="585.31,127.05 578.34,124.58 585.04,118.74 592.02,121.15" fill="#8ef85e"/>
<polygon points="571.61,130.7 564.7,128.2 571.42,122.14 578.34,124.58" fill="#79f961"/>
<polygon points="557.94,134.52 551.09,131.98 557.84,125.72 564.7,128.2" fill="#64fa64"/>
<polygon points="544.31,138.51 537.51,135.94 544.28,129.47 551.09,131.98" fill="#61f770"/>
<polygon points="530.71,142.68 523.98,140.07 530.76,133.39 537.51,135.94" fill="#5df47d"/>
<polygon points="517.16,147.03 510.48,144.37 517.29,137.49 523.98,140.07" fill="#58f28e"/>
<polygon points="503.66,151.54 497.04,148.84 503.85,141.75 510.48,144.37" fill="#5df2a4"/>
<polygon points="578.57,133.22 571.61,130.7 578.34,124.58 585.31,127.05" fill="#78f961"/>
<polygon points="564.84,137.08 557.94,134.52 564.7,128.2 571.61,130.7" fill="#64fa65"/>
<polygon points="551.15,141.11 544.31,138.51 551.09,131.98 557.94,134.52" fill="#61f770"/>
<polygon points="537.5,145.32 530.71,142.68 537.51,135.94 544.31,138.51" fill="#5cf47e"/>
<polygon points="523.89,149.7 517.16,147.03 523.98,140.07 530.71,142.68" fill="#58f28e"/>
<polygon points="510.32,154.26 503.66,151.54 510.48,144.37 517.16,147.03" fill="#5ef2a5"/>
<polygon points="571.8,139.67 564.84,137.08 571.61,130.7 578.57,133.22" fill="#64fa65"/>
<polygon points="558.05,143.74 551.15,141.11 557.94,134.52 564.84,137.08" fill="#60f671"/>
<polygon points="544.33,147.99 537.5,145.32 544.31,138.51 551.15,141.11" fill="#5cf47f"/>
<polygon points="530.66,152.41 523.89,149.7 530.71,142.68 537.5,145.32" fill="#59f28f"/>
<polygon points="517.04,157 510.32,154.26 517.16,147.03 523.89,149.7" fill="#5ef2a6"/>
<polygon points="564.99,146.39 558.05,143.74 564.84,137.08 571.8,139.67" fill="#60f671"/>
<polygon points="551.22,150.68 544.33,147.99 551.15,141.11 558.05,143.74" fill="#5cf47f"/>
<polygon points="537.49,155.14 530.66,152.41 537.5,145.32 544.33,147.99" fill="#59f290"/>
<polygon points="523.8,159.78 517.04,157 523.89,149.7 530.66,152.41" fill="#5ef1a7"/>
<polygon points="558.15,153.4 551.22,150.68 558.05,143.74 564.99,146.39" fill="#5cf480"/>
<polygon points="544.36,157.9 537.49,155.14 544.33,147.99 551.22,150.68" fill="#59f291"/>
<polygon points="530.61,162.58 523.8,159.78 530.66,152.41 537.49,155.14" fill="#5ef1a7"/>
<polygon points="551.28,160.69 544.36,157.9 551.22,150.68 558.15,153.4" fill="#59f292"/>
<polygon points="537.47,165.41 530.61,162.58 537.49,155.14 544.36,157.9" fill="#5ff1a8"/>
<polygon points="544.39,168.27 537.47,165.41 544.36,157.9 551.28,160.69" fill="#5ff1a9"/>
</g>
<g fill="#000">
<circle cx="418.87" cy="204.76" r="1.25"/>
<circle cx="439.76" cy="214.78" r="1.25"/>
<circle cx="460.65" cy="224.81" r="1.25"/>
<circle cx="481.54" cy="234.83" r="1.25"/>
<circle cx="502.43" cy="244.86" r="1.25"/>
<circle cx="523.31" cy="254.88" r="1.25"/>
<circle cx="544.2" cy="264.91" r="1.25"/>
<circle cx="544.2" cy="264.91" r="1.25"/>
<circle cx="575.39" cy="249.89" r="1.25"/>
<circle cx="606.57" cy="234.87" r="1.25"/>
<circle cx="637.76" cy="219.85" r="1.25"/>
<circle cx="668.94" cy="204.83" r="1.25"/>
<circle cx="417.2" cy="164.1" r="1.25"/>
<circle cx="416.32" cy="145.44" r="1.25"/>
<circle cx="415.43" cy="126.79" r="1.25"/>
<circle cx="414.55" cy="108.13" r="1.25"/>
<circle cx="413.67" cy="89.47" r="1.25"/>
<circle cx="412.78" cy="70.81" r="1.25"/>
<circle cx="411.9" cy="52.16" r="1.25"/>
<circle cx="411.02" cy="33.5" r="1.25"/>
</g>
<g font-family="Liberation Sans, sans-serif" font-size="7.6" fill="#1e1e1e" text-anchor="end">
<text x="412.9" y="161.8">-20</text>
<text x="412.02" y="143.14">0</text>
<text x="411.13" y="124.49">20</text>
<text x="410.25" y="105.83">40</text>
<text x="409.37" y="87.17">60</text>
<text x="408.48" y="68.51">80</text>
<text x="407.6" y="49.86">100</text>
<text x="406.72" y="31.2">120</text>
<text x="414.67" y="212.66">60</text>
<text x="435.56" y="222.68">51</text>
<text x="456.45" y="232.71">42</text>
<text x="477.34" y="242.73">33</text>
<text x="498.23" y="252.76">24</text>
<text x="519.11" y="262.78">15</text>
<text x="540" y="272.81">6</text>
</g><g font-family="Liberation Sans, sans-serif" font-size="7.6" fill="#1e1e1e">
<text x="548.6" y="272.81">4</text>
<text x="579.79" y="257.79">13</text>
<text x="610.97" y="242.77">22</text>
<text x="642.16" y="227.75">31</text>
<text x="673.34" y="212.73">40</text>
</g>
<g font-family="Liberation Serif, serif" fill="#111" stroke="#111" stroke-width="0.22">
<text x="0" y="14.6" font-size="21">(a)</text>
<text x="351.2" y="14.6" font-size="21">(b)</text>
<text transform="translate(31.7,213.5) rotate(-90)" font-size="15.22">As(III) removal efficiency (%)</text>
<text transform="translate(375.6,201.1) rotate(-90)" font-size="15.22">Cd removal efficiency (%)</text>
<text transform="translate(76.4,240) rotate(26)" font-size="12">CaCl<tspan font-size="8.16" dy="2.6">2</tspan><tspan dy="-2.6"> dose (mg/L)</tspan></text>
<text transform="translate(218,294) rotate(-27.5)" font-size="11.8"><tspan>K</tspan><tspan font-size="8.02" dy="2.6">2</tspan><tspan dy="-2.6">TiO(C</tspan><tspan font-size="8.02" dy="2.6">2</tspan><tspan dy="-2.6">O</tspan><tspan font-size="8.02" dy="2.6">4</tspan><tspan dy="-2.6">)</tspan><tspan font-size="8.02" dy="2.6">2</tspan><tspan dy="-2.6"> dose (mg/L)</tspan></text>
<text transform="translate(413.3,240) rotate(26)" font-size="12">CaCl<tspan font-size="8.16" dy="2.6">2</tspan><tspan dy="-2.6"> dose (mg/L)</tspan></text>
<text transform="translate(563.7,293.3) rotate(-27.5)" font-size="11.8"><tspan>K</tspan><tspan font-size="8.02" dy="2.6">2</tspan><tspan dy="-2.6">TiO(C</tspan><tspan font-size="8.02" dy="2.6">2</tspan><tspan dy="-2.6">O</tspan><tspan font-size="8.02" dy="2.6">4</tspan><tspan dy="-2.6">)</tspan><tspan font-size="8.02" dy="2.6">2</tspan><tspan dy="-2.6"> dose (mg/L)</tspan></text>
<text x="344.3" y="268.2" font-size="13.9">0</text>
<text x="385.4" y="268.2" font-size="13.9">100</text>
</g>
<defs><linearGradient id="cb" x1="0" x2="1" y1="0" y2="0"><stop offset="0" stop-color="#0000ff"/><stop offset="0.5" stop-color="#00ff00"/><stop offset="1" stop-color="#ff0000"/></linearGradient></defs>
<rect x="358.9" y="260" width="20.9" height="8" fill="url(#cb)" stroke="#444" stroke-width="0.7"/>

</svg>
</body></html>
